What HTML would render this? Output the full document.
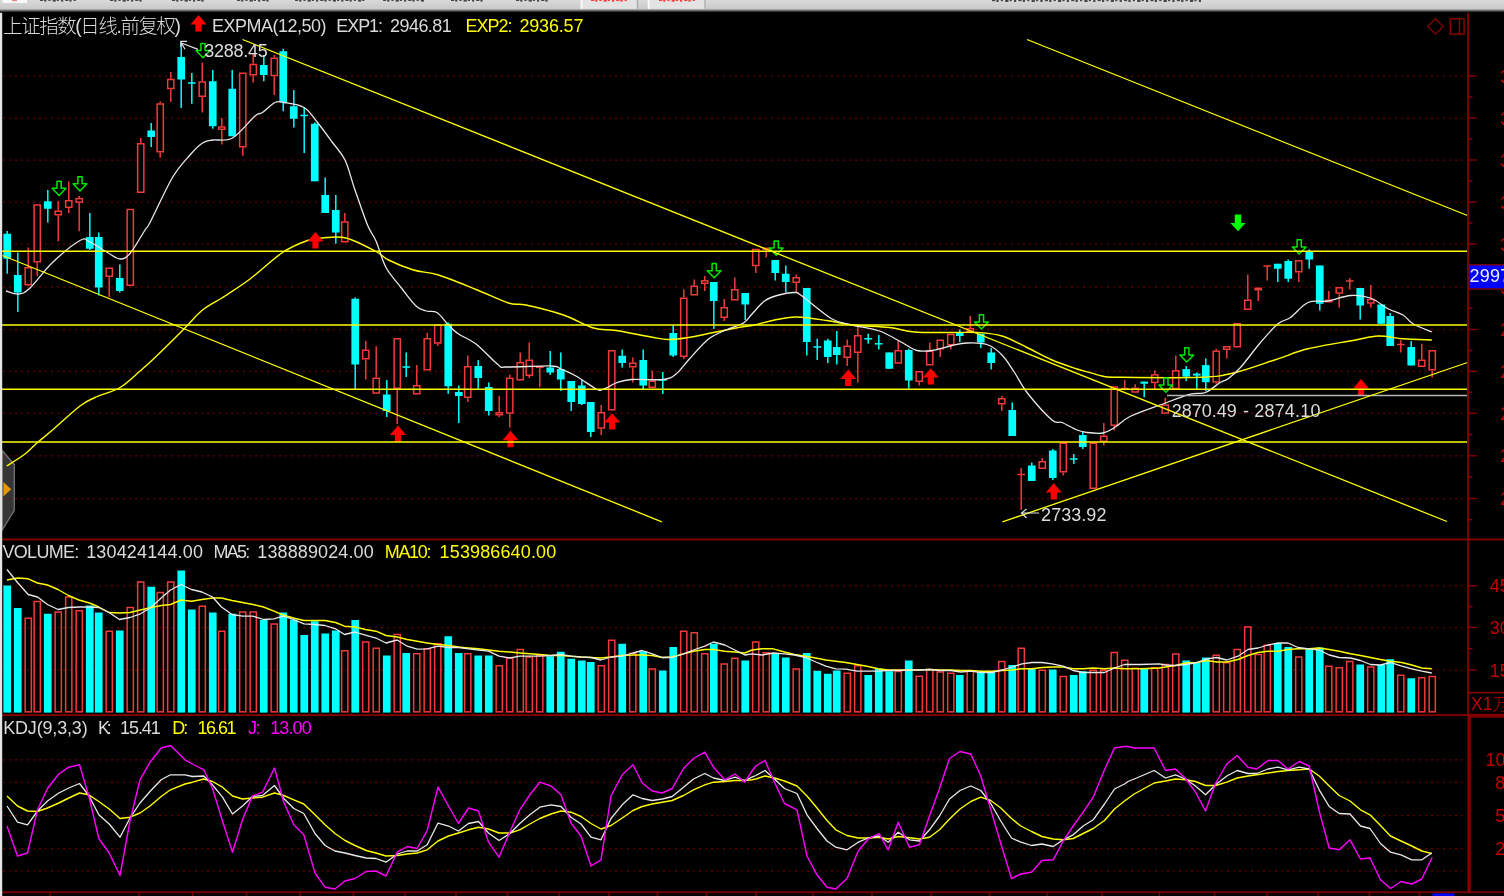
<!DOCTYPE html>
<html><head><meta charset="utf-8"><title>上证指数</title>
<style>
html,body{margin:0;padding:0;background:#000;overflow:hidden}
svg{display:block;will-change:transform;transform:translateZ(0);filter:blur(0.45px)}
text{white-space:pre}
</style></head><body>
<svg width="1504" height="896" viewBox="0 0 1504 896">
<rect x="0" y="0" width="1504" height="896" fill="#000"/>
<path d="M2.2,450.5 L14.3,464.5 V510.3 L2.2,530 Z" fill="#363636" stroke="#6e6e6e" stroke-width="1.4"/>
<path d="M3.4,482 L11.2,489.2 L3.4,496.4 Z" fill="#e69a00"/>
<line x1="3.4" y1="76" x2="1464" y2="76" stroke="#a40000" stroke-width="1.25" stroke-dasharray="1.25 4.75"/>
<line x1="3.4" y1="118" x2="1464" y2="118" stroke="#a40000" stroke-width="1.25" stroke-dasharray="1.25 4.75"/>
<line x1="3.4" y1="160" x2="1464" y2="160" stroke="#a40000" stroke-width="1.25" stroke-dasharray="1.25 4.75"/>
<line x1="3.4" y1="202" x2="1464" y2="202" stroke="#a40000" stroke-width="1.25" stroke-dasharray="1.25 4.75"/>
<line x1="3.4" y1="244" x2="1464" y2="244" stroke="#a40000" stroke-width="1.25" stroke-dasharray="1.25 4.75"/>
<line x1="3.4" y1="287" x2="1464" y2="287" stroke="#a40000" stroke-width="1.25" stroke-dasharray="1.25 4.75"/>
<line x1="3.4" y1="329.5" x2="1464" y2="329.5" stroke="#a40000" stroke-width="1.25" stroke-dasharray="1.25 4.75"/>
<line x1="3.4" y1="371.3" x2="1464" y2="371.3" stroke="#a40000" stroke-width="1.25" stroke-dasharray="1.25 4.75"/>
<line x1="3.4" y1="413.3" x2="1464" y2="413.3" stroke="#a40000" stroke-width="1.25" stroke-dasharray="1.25 4.75"/>
<line x1="3.4" y1="455.8" x2="1464" y2="455.8" stroke="#a40000" stroke-width="1.25" stroke-dasharray="1.25 4.75"/>
<line x1="3.4" y1="498.5" x2="1464" y2="498.5" stroke="#a40000" stroke-width="1.25" stroke-dasharray="1.25 4.75"/>
<line x1="3.4" y1="585.75" x2="1464" y2="585.75" stroke="#a40000" stroke-width="1.25" stroke-dasharray="1.25 4.75"/>
<line x1="3.4" y1="627.5" x2="1464" y2="627.5" stroke="#a40000" stroke-width="1.25" stroke-dasharray="1.25 4.75"/>
<line x1="3.4" y1="670" x2="1464" y2="670" stroke="#a40000" stroke-width="1.25" stroke-dasharray="1.25 4.75"/>
<line x1="3.4" y1="759.75" x2="1464" y2="759.75" stroke="#a40000" stroke-width="1.25" stroke-dasharray="1.25 4.75"/>
<line x1="3.4" y1="782.25" x2="1464" y2="782.25" stroke="#a40000" stroke-width="1.25" stroke-dasharray="1.25 4.75"/>
<line x1="3.4" y1="815.5" x2="1464" y2="815.5" stroke="#a40000" stroke-width="1.25" stroke-dasharray="1.25 4.75"/>
<line x1="3.4" y1="848.5" x2="1464" y2="848.5" stroke="#a40000" stroke-width="1.25" stroke-dasharray="1.25 4.75"/>
<line x1="3.4" y1="871" x2="1464" y2="871" stroke="#a40000" stroke-width="1.25" stroke-dasharray="1.25 4.75"/>
<line x1="7.2" y1="231.0" x2="7.2" y2="273.8" stroke="#00ffff" stroke-width="1.5" />
<rect x="3.40" y="233.75" width="7.7" height="25.00" fill="#00ffff"/>
<line x1="17.8" y1="252.5" x2="17.8" y2="312.0" stroke="#00ffff" stroke-width="1.5" />
<rect x="13.90" y="275.00" width="7.7" height="17.50" fill="#00ffff"/>
<line x1="28.2" y1="247.5" x2="28.2" y2="267.0" stroke="#f23a3a" stroke-width="1.5" />
<rect x="25.15" y="267.75" width="6.20" height="17.00" fill="#000" stroke="#f23a3a" stroke-width="1.5"/>
<line x1="37.2" y1="262.5" x2="37.2" y2="276.0" stroke="#f23a3a" stroke-width="1.5" />
<rect x="34.15" y="205.00" width="6.20" height="56.75" fill="#000" stroke="#f23a3a" stroke-width="1.5"/>
<line x1="47.8" y1="190.0" x2="47.8" y2="222.5" stroke="#00ffff" stroke-width="1.5" />
<rect x="43.90" y="201.25" width="7.7" height="7.50" fill="#00ffff"/>
<line x1="58.2" y1="201.2" x2="58.2" y2="210.5" stroke="#f23a3a" stroke-width="1.5" />
<line x1="58.2" y1="215.5" x2="58.2" y2="241.2" stroke="#f23a3a" stroke-width="1.5" />
<rect x="55.15" y="211.25" width="6.20" height="3.50" fill="#000" stroke="#f23a3a" stroke-width="1.5"/>
<line x1="68.8" y1="181.2" x2="68.8" y2="200.0" stroke="#f23a3a" stroke-width="1.5" />
<line x1="68.8" y1="208.0" x2="68.8" y2="213.0" stroke="#f23a3a" stroke-width="1.5" />
<rect x="65.65" y="200.75" width="6.20" height="6.50" fill="#000" stroke="#f23a3a" stroke-width="1.5"/>
<line x1="79.2" y1="196.1" x2="79.2" y2="197.9" stroke="#f23a3a" stroke-width="1.5" />
<line x1="79.2" y1="202.9" x2="79.2" y2="231.2" stroke="#f23a3a" stroke-width="1.5" />
<rect x="76.15" y="198.65" width="6.20" height="3.50" fill="#000" stroke="#f23a3a" stroke-width="1.5"/>
<line x1="89.8" y1="213.0" x2="89.8" y2="250.0" stroke="#00ffff" stroke-width="1.5" />
<rect x="85.90" y="237.00" width="7.7" height="11.75" fill="#00ffff"/>
<line x1="98.8" y1="232.5" x2="98.8" y2="295.5" stroke="#00ffff" stroke-width="1.5" />
<rect x="94.90" y="237.00" width="7.7" height="50.50" fill="#00ffff"/>
<line x1="109.2" y1="277.0" x2="109.2" y2="297.0" stroke="#f23a3a" stroke-width="1.5" />
<rect x="106.15" y="268.25" width="6.20" height="8.00" fill="#000" stroke="#f23a3a" stroke-width="1.5"/>
<line x1="119.8" y1="264.5" x2="119.8" y2="292.5" stroke="#00ffff" stroke-width="1.5" />
<rect x="115.90" y="278.00" width="7.7" height="13.00" fill="#00ffff"/>
<rect x="127.15" y="209.50" width="6.20" height="75.75" fill="#000" stroke="#f23a3a" stroke-width="1.5"/>
<line x1="140.8" y1="138.0" x2="140.8" y2="143.0" stroke="#f23a3a" stroke-width="1.5" />
<rect x="137.65" y="143.75" width="6.20" height="48.50" fill="#000" stroke="#f23a3a" stroke-width="1.5"/>
<line x1="151.2" y1="123.0" x2="151.2" y2="147.0" stroke="#00ffff" stroke-width="1.5" />
<rect x="147.40" y="130.50" width="7.7" height="6.50" fill="#00ffff"/>
<line x1="160.2" y1="101.2" x2="160.2" y2="103.2" stroke="#f23a3a" stroke-width="1.5" />
<line x1="160.2" y1="152.5" x2="160.2" y2="157.5" stroke="#f23a3a" stroke-width="1.5" />
<rect x="157.15" y="104.00" width="6.20" height="47.75" fill="#000" stroke="#f23a3a" stroke-width="1.5"/>
<line x1="170.8" y1="72.0" x2="170.8" y2="78.8" stroke="#f23a3a" stroke-width="1.5" />
<line x1="170.8" y1="89.2" x2="170.8" y2="102.0" stroke="#f23a3a" stroke-width="1.5" />
<rect x="167.65" y="79.50" width="6.20" height="9.00" fill="#000" stroke="#f23a3a" stroke-width="1.5"/>
<line x1="181.2" y1="42.5" x2="181.2" y2="108.0" stroke="#00ffff" stroke-width="1.5" />
<rect x="177.40" y="57.00" width="7.7" height="22.50" fill="#00ffff"/>
<line x1="191.8" y1="73.0" x2="191.8" y2="103.8" stroke="#00ffff" stroke-width="1.5" />
<line x1="187.9" y1="83.0" x2="195.6" y2="83.0" stroke="#00ffff" stroke-width="1.5" />
<line x1="202.2" y1="62.5" x2="202.2" y2="81.2" stroke="#f23a3a" stroke-width="1.5" />
<line x1="202.2" y1="97.0" x2="202.2" y2="112.5" stroke="#f23a3a" stroke-width="1.5" />
<rect x="199.15" y="82.00" width="6.20" height="14.25" fill="#000" stroke="#f23a3a" stroke-width="1.5"/>
<line x1="212.8" y1="70.0" x2="212.8" y2="128.8" stroke="#00ffff" stroke-width="1.5" />
<rect x="208.90" y="81.25" width="7.7" height="45.00" fill="#00ffff"/>
<line x1="221.8" y1="118.0" x2="221.8" y2="126.2" stroke="#f23a3a" stroke-width="1.5" />
<line x1="221.8" y1="130.0" x2="221.8" y2="144.5" stroke="#f23a3a" stroke-width="1.5" />
<rect x="218.65" y="127.00" width="6.20" height="2.25" fill="#000" stroke="#f23a3a" stroke-width="1.5"/>
<line x1="232.2" y1="70.0" x2="232.2" y2="136.2" stroke="#00ffff" stroke-width="1.5" />
<rect x="228.40" y="88.75" width="7.7" height="47.50" fill="#00ffff"/>
<line x1="242.8" y1="147.5" x2="242.8" y2="155.8" stroke="#f23a3a" stroke-width="1.5" />
<rect x="239.65" y="73.25" width="6.20" height="73.50" fill="#000" stroke="#f23a3a" stroke-width="1.5"/>
<line x1="253.2" y1="53.8" x2="253.2" y2="63.8" stroke="#f23a3a" stroke-width="1.5" />
<line x1="253.2" y1="75.5" x2="253.2" y2="82.5" stroke="#f23a3a" stroke-width="1.5" />
<rect x="250.15" y="64.50" width="6.20" height="10.25" fill="#000" stroke="#f23a3a" stroke-width="1.5"/>
<line x1="263.8" y1="55.0" x2="263.8" y2="81.2" stroke="#00ffff" stroke-width="1.5" />
<rect x="259.90" y="65.00" width="7.7" height="10.00" fill="#00ffff"/>
<line x1="274.2" y1="55.0" x2="274.2" y2="57.5" stroke="#f23a3a" stroke-width="1.5" />
<line x1="274.2" y1="76.2" x2="274.2" y2="95.0" stroke="#f23a3a" stroke-width="1.5" />
<rect x="271.15" y="58.25" width="6.20" height="17.25" fill="#000" stroke="#f23a3a" stroke-width="1.5"/>
<line x1="283.2" y1="48.8" x2="283.2" y2="111.2" stroke="#00ffff" stroke-width="1.5" />
<rect x="279.40" y="51.25" width="7.7" height="51.25" fill="#00ffff"/>
<line x1="293.8" y1="90.0" x2="293.8" y2="127.5" stroke="#00ffff" stroke-width="1.5" />
<rect x="289.90" y="106.25" width="7.7" height="12.50" fill="#00ffff"/>
<line x1="304.2" y1="107.5" x2="304.2" y2="153.0" stroke="#00ffff" stroke-width="1.5" />
<line x1="300.4" y1="115.5" x2="308.1" y2="115.5" stroke="#00ffff" stroke-width="1.5" />
<line x1="314.8" y1="122.5" x2="314.8" y2="181.2" stroke="#00ffff" stroke-width="1.5" />
<rect x="310.90" y="123.75" width="7.7" height="57.50" fill="#00ffff"/>
<line x1="325.2" y1="177.5" x2="325.2" y2="213.0" stroke="#00ffff" stroke-width="1.5" />
<rect x="321.40" y="195.00" width="7.7" height="18.00" fill="#00ffff"/>
<line x1="335.8" y1="195.0" x2="335.8" y2="243.8" stroke="#00ffff" stroke-width="1.5" />
<rect x="331.90" y="210.00" width="7.7" height="22.50" fill="#00ffff"/>
<line x1="344.8" y1="213.0" x2="344.8" y2="221.2" stroke="#f23a3a" stroke-width="1.5" />
<rect x="341.65" y="222.00" width="6.20" height="19.75" fill="#000" stroke="#f23a3a" stroke-width="1.5"/>
<line x1="355.2" y1="297.5" x2="355.2" y2="389.0" stroke="#00ffff" stroke-width="1.5" />
<rect x="351.40" y="298.75" width="7.7" height="65.75" fill="#00ffff"/>
<line x1="365.8" y1="341.0" x2="365.8" y2="349.5" stroke="#f23a3a" stroke-width="1.5" />
<line x1="365.8" y1="359.5" x2="365.8" y2="379.5" stroke="#f23a3a" stroke-width="1.5" />
<rect x="362.65" y="350.25" width="6.20" height="8.50" fill="#000" stroke="#f23a3a" stroke-width="1.5"/>
<line x1="376.2" y1="346.2" x2="376.2" y2="377.5" stroke="#f23a3a" stroke-width="1.5" />
<line x1="376.2" y1="393.8" x2="376.2" y2="394.0" stroke="#f23a3a" stroke-width="1.5" />
<rect x="373.15" y="378.25" width="6.20" height="14.75" fill="#000" stroke="#f23a3a" stroke-width="1.5"/>
<line x1="386.8" y1="380.0" x2="386.8" y2="417.0" stroke="#00ffff" stroke-width="1.5" />
<rect x="382.90" y="394.50" width="7.7" height="16.50" fill="#00ffff"/>
<line x1="397.2" y1="389.0" x2="397.2" y2="424.0" stroke="#f23a3a" stroke-width="1.5" />
<rect x="394.15" y="338.75" width="6.20" height="49.50" fill="#000" stroke="#f23a3a" stroke-width="1.5"/>
<line x1="406.2" y1="352.5" x2="406.2" y2="377.0" stroke="#00ffff" stroke-width="1.5" />
<line x1="402.4" y1="367.0" x2="410.1" y2="367.0" stroke="#00ffff" stroke-width="1.5" />
<line x1="416.8" y1="365.0" x2="416.8" y2="385.0" stroke="#f23a3a" stroke-width="1.5" />
<rect x="413.65" y="385.75" width="6.20" height="8.00" fill="#000" stroke="#f23a3a" stroke-width="1.5"/>
<line x1="427.2" y1="333.0" x2="427.2" y2="338.0" stroke="#f23a3a" stroke-width="1.5" />
<rect x="424.15" y="338.75" width="6.20" height="31.00" fill="#000" stroke="#f23a3a" stroke-width="1.5"/>
<line x1="437.8" y1="343.8" x2="437.8" y2="346.0" stroke="#f23a3a" stroke-width="1.5" />
<rect x="434.65" y="325.25" width="6.20" height="17.75" fill="#000" stroke="#f23a3a" stroke-width="1.5"/>
<line x1="448.2" y1="322.5" x2="448.2" y2="393.8" stroke="#00ffff" stroke-width="1.5" />
<rect x="444.40" y="323.75" width="7.7" height="62.50" fill="#00ffff"/>
<line x1="458.8" y1="385.5" x2="458.8" y2="423.0" stroke="#00ffff" stroke-width="1.5" />
<rect x="454.90" y="392.00" width="7.7" height="4.00" fill="#00ffff"/>
<line x1="467.8" y1="355.5" x2="467.8" y2="366.0" stroke="#f23a3a" stroke-width="1.5" />
<line x1="467.8" y1="398.0" x2="467.8" y2="402.0" stroke="#f23a3a" stroke-width="1.5" />
<rect x="464.65" y="366.75" width="6.20" height="30.50" fill="#000" stroke="#f23a3a" stroke-width="1.5"/>
<line x1="478.2" y1="360.0" x2="478.2" y2="389.0" stroke="#00ffff" stroke-width="1.5" />
<rect x="474.40" y="366.00" width="7.7" height="12.00" fill="#00ffff"/>
<line x1="488.8" y1="382.5" x2="488.8" y2="415.5" stroke="#00ffff" stroke-width="1.5" />
<rect x="484.90" y="387.00" width="7.7" height="24.00" fill="#00ffff"/>
<line x1="499.2" y1="396.0" x2="499.2" y2="412.0" stroke="#f23a3a" stroke-width="1.5" />
<line x1="499.2" y1="415.5" x2="499.2" y2="417.0" stroke="#f23a3a" stroke-width="1.5" />
<rect x="496.15" y="412.75" width="6.20" height="2.00" fill="#000" stroke="#f23a3a" stroke-width="1.5"/>
<line x1="509.8" y1="374.5" x2="509.8" y2="377.5" stroke="#f23a3a" stroke-width="1.5" />
<line x1="509.8" y1="413.8" x2="509.8" y2="427.5" stroke="#f23a3a" stroke-width="1.5" />
<rect x="506.65" y="378.25" width="6.20" height="34.75" fill="#000" stroke="#f23a3a" stroke-width="1.5"/>
<line x1="520.2" y1="352.5" x2="520.2" y2="362.0" stroke="#f23a3a" stroke-width="1.5" />
<rect x="517.15" y="362.75" width="6.20" height="17.00" fill="#000" stroke="#f23a3a" stroke-width="1.5"/>
<line x1="529.2" y1="342.5" x2="529.2" y2="359.5" stroke="#f23a3a" stroke-width="1.5" />
<line x1="529.2" y1="376.0" x2="529.2" y2="378.0" stroke="#f23a3a" stroke-width="1.5" />
<rect x="526.15" y="360.25" width="6.20" height="15.00" fill="#000" stroke="#f23a3a" stroke-width="1.5"/>
<line x1="539.8" y1="368.0" x2="539.8" y2="387.0" stroke="#f23a3a" stroke-width="1.5" />
<rect x="536.65" y="366.75" width="6.20" height="0.50" fill="#000" stroke="#f23a3a" stroke-width="1.5"/>
<line x1="550.2" y1="351.0" x2="550.2" y2="375.0" stroke="#00ffff" stroke-width="1.5" />
<rect x="546.40" y="367.50" width="7.7" height="5.00" fill="#00ffff"/>
<line x1="560.8" y1="352.5" x2="560.8" y2="391.0" stroke="#00ffff" stroke-width="1.5" />
<rect x="556.90" y="369.00" width="7.7" height="10.50" fill="#00ffff"/>
<line x1="571.2" y1="381.0" x2="571.2" y2="411.0" stroke="#00ffff" stroke-width="1.5" />
<rect x="567.40" y="381.00" width="7.7" height="21.00" fill="#00ffff"/>
<line x1="581.8" y1="380.0" x2="581.8" y2="405.0" stroke="#00ffff" stroke-width="1.5" />
<rect x="577.90" y="385.50" width="7.7" height="18.50" fill="#00ffff"/>
<line x1="590.8" y1="402.0" x2="590.8" y2="437.0" stroke="#00ffff" stroke-width="1.5" />
<rect x="586.90" y="402.00" width="7.7" height="30.00" fill="#00ffff"/>
<line x1="601.2" y1="405.0" x2="601.2" y2="412.0" stroke="#f23a3a" stroke-width="1.5" />
<line x1="601.2" y1="428.8" x2="601.2" y2="435.0" stroke="#f23a3a" stroke-width="1.5" />
<rect x="598.15" y="412.75" width="6.20" height="15.25" fill="#000" stroke="#f23a3a" stroke-width="1.5"/>
<rect x="608.65" y="350.75" width="6.20" height="59.00" fill="#000" stroke="#f23a3a" stroke-width="1.5"/>
<line x1="622.2" y1="349.5" x2="622.2" y2="367.5" stroke="#00ffff" stroke-width="1.5" />
<rect x="618.40" y="355.75" width="7.7" height="7.25" fill="#00ffff"/>
<line x1="632.8" y1="357.5" x2="632.8" y2="362.5" stroke="#f23a3a" stroke-width="1.5" />
<line x1="632.8" y1="367.5" x2="632.8" y2="382.5" stroke="#f23a3a" stroke-width="1.5" />
<rect x="629.65" y="363.25" width="6.20" height="3.50" fill="#000" stroke="#f23a3a" stroke-width="1.5"/>
<line x1="643.2" y1="349.5" x2="643.2" y2="389.0" stroke="#00ffff" stroke-width="1.5" />
<rect x="639.40" y="360.00" width="7.7" height="25.50" fill="#00ffff"/>
<line x1="652.2" y1="370.5" x2="652.2" y2="380.5" stroke="#f23a3a" stroke-width="1.5" />
<rect x="649.15" y="381.25" width="6.20" height="6.00" fill="#000" stroke="#f23a3a" stroke-width="1.5"/>
<line x1="662.8" y1="372.0" x2="662.8" y2="394.0" stroke="#00ffff" stroke-width="1.5" />
<line x1="658.9" y1="380.0" x2="666.6" y2="380.0" stroke="#00ffff" stroke-width="1.5" />
<line x1="673.2" y1="325.0" x2="673.2" y2="357.0" stroke="#00ffff" stroke-width="1.5" />
<rect x="669.40" y="333.00" width="7.7" height="22.50" fill="#00ffff"/>
<line x1="683.8" y1="289.5" x2="683.8" y2="297.5" stroke="#f23a3a" stroke-width="1.5" />
<line x1="683.8" y1="357.0" x2="683.8" y2="359.0" stroke="#f23a3a" stroke-width="1.5" />
<rect x="680.65" y="298.25" width="6.20" height="58.00" fill="#000" stroke="#f23a3a" stroke-width="1.5"/>
<line x1="694.2" y1="279.5" x2="694.2" y2="285.5" stroke="#f23a3a" stroke-width="1.5" />
<rect x="691.15" y="286.25" width="6.20" height="8.50" fill="#000" stroke="#f23a3a" stroke-width="1.5"/>
<line x1="704.8" y1="276.0" x2="704.8" y2="280.0" stroke="#f23a3a" stroke-width="1.5" />
<line x1="704.8" y1="284.0" x2="704.8" y2="291.0" stroke="#f23a3a" stroke-width="1.5" />
<rect x="701.65" y="280.75" width="6.20" height="2.50" fill="#000" stroke="#f23a3a" stroke-width="1.5"/>
<line x1="713.8" y1="282.0" x2="713.8" y2="329.0" stroke="#00ffff" stroke-width="1.5" />
<rect x="709.90" y="282.00" width="7.7" height="19.00" fill="#00ffff"/>
<line x1="724.2" y1="299.0" x2="724.2" y2="307.0" stroke="#f23a3a" stroke-width="1.5" />
<line x1="724.2" y1="318.0" x2="724.2" y2="321.0" stroke="#f23a3a" stroke-width="1.5" />
<rect x="721.15" y="307.75" width="6.20" height="9.50" fill="#000" stroke="#f23a3a" stroke-width="1.5"/>
<line x1="734.8" y1="277.5" x2="734.8" y2="289.0" stroke="#f23a3a" stroke-width="1.5" />
<rect x="731.65" y="289.75" width="6.20" height="10.00" fill="#000" stroke="#f23a3a" stroke-width="1.5"/>
<line x1="745.2" y1="293.0" x2="745.2" y2="320.0" stroke="#00ffff" stroke-width="1.5" />
<rect x="741.40" y="293.00" width="7.7" height="11.50" fill="#00ffff"/>
<line x1="755.8" y1="266.2" x2="755.8" y2="273.0" stroke="#f23a3a" stroke-width="1.5" />
<rect x="752.65" y="249.50" width="6.20" height="16.00" fill="#000" stroke="#f23a3a" stroke-width="1.5"/>
<line x1="766.2" y1="250.0" x2="766.2" y2="257.5" stroke="#f23a3a" stroke-width="1.5" />
<rect x="763.15" y="248.25" width="6.20" height="1.00" fill="#000" stroke="#f23a3a" stroke-width="1.5"/>
<line x1="775.2" y1="260.0" x2="775.2" y2="280.5" stroke="#00ffff" stroke-width="1.5" />
<rect x="771.40" y="260.00" width="7.7" height="13.00" fill="#00ffff"/>
<line x1="785.8" y1="265.5" x2="785.8" y2="292.5" stroke="#00ffff" stroke-width="1.5" />
<rect x="781.90" y="273.75" width="7.7" height="8.25" fill="#00ffff"/>
<line x1="796.2" y1="274.5" x2="796.2" y2="277.0" stroke="#f23a3a" stroke-width="1.5" />
<line x1="796.2" y1="283.0" x2="796.2" y2="292.5" stroke="#f23a3a" stroke-width="1.5" />
<rect x="793.15" y="277.75" width="6.20" height="4.50" fill="#000" stroke="#f23a3a" stroke-width="1.5"/>
<line x1="806.8" y1="288.0" x2="806.8" y2="355.5" stroke="#00ffff" stroke-width="1.5" />
<rect x="802.90" y="288.00" width="7.7" height="54.00" fill="#00ffff"/>
<line x1="817.2" y1="338.8" x2="817.2" y2="360.0" stroke="#00ffff" stroke-width="1.5" />
<line x1="813.4" y1="347.0" x2="821.1" y2="347.0" stroke="#00ffff" stroke-width="1.5" />
<line x1="827.8" y1="338.8" x2="827.8" y2="363.0" stroke="#00ffff" stroke-width="1.5" />
<rect x="823.90" y="340.50" width="7.7" height="16.50" fill="#00ffff"/>
<line x1="836.8" y1="331.0" x2="836.8" y2="364.5" stroke="#00ffff" stroke-width="1.5" />
<rect x="832.90" y="347.00" width="7.7" height="8.00" fill="#00ffff"/>
<line x1="847.2" y1="339.5" x2="847.2" y2="345.5" stroke="#f23a3a" stroke-width="1.5" />
<line x1="847.2" y1="358.0" x2="847.2" y2="366.0" stroke="#f23a3a" stroke-width="1.5" />
<rect x="844.15" y="346.25" width="6.20" height="11.00" fill="#000" stroke="#f23a3a" stroke-width="1.5"/>
<line x1="857.8" y1="326.0" x2="857.8" y2="335.0" stroke="#f23a3a" stroke-width="1.5" />
<line x1="857.8" y1="353.0" x2="857.8" y2="382.5" stroke="#f23a3a" stroke-width="1.5" />
<rect x="854.65" y="335.75" width="6.20" height="16.50" fill="#000" stroke="#f23a3a" stroke-width="1.5"/>
<line x1="868.2" y1="333.8" x2="868.2" y2="343.8" stroke="#00ffff" stroke-width="1.5" />
<line x1="864.4" y1="338.8" x2="872.1" y2="338.8" stroke="#00ffff" stroke-width="1.5" />
<line x1="878.8" y1="335.0" x2="878.8" y2="349.5" stroke="#00ffff" stroke-width="1.5" />
<line x1="874.9" y1="343.8" x2="882.6" y2="343.8" stroke="#00ffff" stroke-width="1.5" />
<line x1="889.2" y1="352.5" x2="889.2" y2="368.8" stroke="#00ffff" stroke-width="1.5" />
<rect x="885.40" y="352.50" width="7.7" height="16.25" fill="#00ffff"/>
<line x1="898.2" y1="341.0" x2="898.2" y2="350.0" stroke="#f23a3a" stroke-width="1.5" />
<line x1="898.2" y1="363.8" x2="898.2" y2="364.0" stroke="#f23a3a" stroke-width="1.5" />
<rect x="895.15" y="350.75" width="6.20" height="12.25" fill="#000" stroke="#f23a3a" stroke-width="1.5"/>
<line x1="908.8" y1="348.8" x2="908.8" y2="388.8" stroke="#00ffff" stroke-width="1.5" />
<rect x="904.90" y="350.00" width="7.7" height="30.50" fill="#00ffff"/>
<line x1="919.2" y1="382.0" x2="919.2" y2="385.5" stroke="#f23a3a" stroke-width="1.5" />
<rect x="916.15" y="371.75" width="6.20" height="9.50" fill="#000" stroke="#f23a3a" stroke-width="1.5"/>
<line x1="929.8" y1="342.5" x2="929.8" y2="350.5" stroke="#f23a3a" stroke-width="1.5" />
<rect x="926.65" y="351.25" width="6.20" height="13.50" fill="#000" stroke="#f23a3a" stroke-width="1.5"/>
<line x1="940.2" y1="349.5" x2="940.2" y2="357.0" stroke="#f23a3a" stroke-width="1.5" />
<rect x="937.15" y="340.25" width="6.20" height="8.50" fill="#000" stroke="#f23a3a" stroke-width="1.5"/>
<line x1="950.8" y1="345.5" x2="950.8" y2="349.5" stroke="#f23a3a" stroke-width="1.5" />
<rect x="947.65" y="334.50" width="6.20" height="10.25" fill="#000" stroke="#f23a3a" stroke-width="1.5"/>
<line x1="959.8" y1="329.5" x2="959.8" y2="342.0" stroke="#00ffff" stroke-width="1.5" />
<rect x="955.90" y="333.00" width="7.7" height="3.00" fill="#00ffff"/>
<line x1="970.2" y1="316.0" x2="970.2" y2="328.0" stroke="#f23a3a" stroke-width="1.5" />
<rect x="967.15" y="328.75" width="6.20" height="2.50" fill="#000" stroke="#f23a3a" stroke-width="1.5"/>
<line x1="980.8" y1="333.8" x2="980.8" y2="348.0" stroke="#00ffff" stroke-width="1.5" />
<rect x="976.90" y="333.75" width="7.7" height="8.75" fill="#00ffff"/>
<line x1="991.2" y1="348.0" x2="991.2" y2="369.5" stroke="#00ffff" stroke-width="1.5" />
<rect x="987.40" y="352.50" width="7.7" height="10.50" fill="#00ffff"/>
<line x1="1001.8" y1="396.0" x2="1001.8" y2="398.0" stroke="#f23a3a" stroke-width="1.5" />
<line x1="1001.8" y1="404.5" x2="1001.8" y2="411.0" stroke="#f23a3a" stroke-width="1.5" />
<rect x="998.65" y="398.75" width="6.20" height="5.00" fill="#000" stroke="#f23a3a" stroke-width="1.5"/>
<line x1="1012.2" y1="402.5" x2="1012.2" y2="436.0" stroke="#00ffff" stroke-width="1.5" />
<rect x="1008.40" y="410.00" width="7.7" height="26.00" fill="#00ffff"/>
<line x1="1021.2" y1="468.0" x2="1021.2" y2="510.0" stroke="#f23a3a" stroke-width="1.5" />
<line x1="1017.4" y1="474.5" x2="1025.1" y2="474.5" stroke="#f23a3a" stroke-width="1.5" />
<line x1="1031.8" y1="462.5" x2="1031.8" y2="481.0" stroke="#00ffff" stroke-width="1.5" />
<rect x="1027.90" y="465.50" width="7.7" height="15.50" fill="#00ffff"/>
<line x1="1042.2" y1="458.0" x2="1042.2" y2="461.0" stroke="#f23a3a" stroke-width="1.5" />
<rect x="1039.15" y="461.75" width="6.20" height="6.50" fill="#000" stroke="#f23a3a" stroke-width="1.5"/>
<line x1="1052.8" y1="449.0" x2="1052.8" y2="480.0" stroke="#00ffff" stroke-width="1.5" />
<rect x="1048.90" y="450.50" width="7.7" height="27.50" fill="#00ffff"/>
<line x1="1063.2" y1="472.5" x2="1063.2" y2="475.5" stroke="#f23a3a" stroke-width="1.5" />
<rect x="1060.15" y="443.25" width="6.20" height="28.50" fill="#000" stroke="#f23a3a" stroke-width="1.5"/>
<line x1="1073.8" y1="454.0" x2="1073.8" y2="464.0" stroke="#00ffff" stroke-width="1.5" />
<line x1="1069.9" y1="459.0" x2="1077.6" y2="459.0" stroke="#00ffff" stroke-width="1.5" />
<line x1="1082.8" y1="431.0" x2="1082.8" y2="449.0" stroke="#00ffff" stroke-width="1.5" />
<rect x="1078.90" y="435.00" width="7.7" height="12.00" fill="#00ffff"/>
<rect x="1090.15" y="443.25" width="6.20" height="45.00" fill="#000" stroke="#f23a3a" stroke-width="1.5"/>
<line x1="1103.8" y1="423.0" x2="1103.8" y2="435.5" stroke="#f23a3a" stroke-width="1.5" />
<line x1="1103.8" y1="442.0" x2="1103.8" y2="445.5" stroke="#f23a3a" stroke-width="1.5" />
<rect x="1100.65" y="436.25" width="6.20" height="5.00" fill="#000" stroke="#f23a3a" stroke-width="1.5"/>
<line x1="1114.2" y1="425.9" x2="1114.2" y2="430.4" stroke="#f23a3a" stroke-width="1.5" />
<rect x="1111.15" y="386.95" width="6.20" height="38.20" fill="#000" stroke="#f23a3a" stroke-width="1.5"/>
<line x1="1124.8" y1="380.0" x2="1124.8" y2="390.2" stroke="#f23a3a" stroke-width="1.5" />
<line x1="1120.9" y1="388.5" x2="1128.6" y2="388.5" stroke="#f23a3a" stroke-width="1.5" />
<line x1="1135.2" y1="384.2" x2="1135.2" y2="387.7" stroke="#f23a3a" stroke-width="1.5" />
<line x1="1135.2" y1="392.7" x2="1135.2" y2="393.2" stroke="#f23a3a" stroke-width="1.5" />
<rect x="1132.15" y="388.45" width="6.20" height="3.50" fill="#000" stroke="#f23a3a" stroke-width="1.5"/>
<line x1="1144.2" y1="381.6" x2="1144.2" y2="397.2" stroke="#00ffff" stroke-width="1.5" />
<rect x="1140.40" y="381.60" width="7.7" height="2.10" fill="#00ffff"/>
<line x1="1154.8" y1="370.6" x2="1154.8" y2="374.1" stroke="#f23a3a" stroke-width="1.5" />
<line x1="1154.8" y1="383.2" x2="1154.8" y2="388.7" stroke="#f23a3a" stroke-width="1.5" />
<rect x="1151.65" y="374.85" width="6.20" height="7.60" fill="#000" stroke="#f23a3a" stroke-width="1.5"/>
<line x1="1165.2" y1="397.7" x2="1165.2" y2="404.3" stroke="#f23a3a" stroke-width="1.5" />
<rect x="1162.15" y="405.05" width="6.20" height="8.00" fill="#000" stroke="#f23a3a" stroke-width="1.5"/>
<line x1="1175.8" y1="355.5" x2="1175.8" y2="370.1" stroke="#f23a3a" stroke-width="1.5" />
<rect x="1172.65" y="370.85" width="6.20" height="17.60" fill="#000" stroke="#f23a3a" stroke-width="1.5"/>
<line x1="1186.2" y1="366.1" x2="1186.2" y2="381.1" stroke="#00ffff" stroke-width="1.5" />
<rect x="1182.40" y="369.10" width="7.7" height="7.50" fill="#00ffff"/>
<line x1="1196.8" y1="372.6" x2="1196.8" y2="389.2" stroke="#00ffff" stroke-width="1.5" />
<rect x="1192.90" y="373.60" width="7.7" height="2.00" fill="#00ffff"/>
<line x1="1205.8" y1="358.5" x2="1205.8" y2="391.2" stroke="#00ffff" stroke-width="1.5" />
<rect x="1201.90" y="365.10" width="7.7" height="17.10" fill="#00ffff"/>
<line x1="1216.2" y1="348.8" x2="1216.2" y2="350.5" stroke="#f23a3a" stroke-width="1.5" />
<line x1="1216.2" y1="382.7" x2="1216.2" y2="383.7" stroke="#f23a3a" stroke-width="1.5" />
<rect x="1213.15" y="351.25" width="6.20" height="30.70" fill="#000" stroke="#f23a3a" stroke-width="1.5"/>
<line x1="1226.8" y1="350.0" x2="1226.8" y2="358.5" stroke="#f23a3a" stroke-width="1.5" />
<rect x="1223.65" y="346.75" width="6.20" height="2.50" fill="#000" stroke="#f23a3a" stroke-width="1.5"/>
<rect x="1234.15" y="323.75" width="6.20" height="23.00" fill="#000" stroke="#f23a3a" stroke-width="1.5"/>
<line x1="1247.8" y1="274.5" x2="1247.8" y2="299.5" stroke="#f23a3a" stroke-width="1.5" />
<rect x="1244.65" y="300.25" width="6.20" height="9.00" fill="#000" stroke="#f23a3a" stroke-width="1.5"/>
<line x1="1258.2" y1="290.5" x2="1258.2" y2="301.0" stroke="#f23a3a" stroke-width="1.5" />
<rect x="1255.15" y="288.25" width="6.20" height="1.50" fill="#000" stroke="#f23a3a" stroke-width="1.5"/>
<line x1="1267.2" y1="266.0" x2="1267.2" y2="280.5" stroke="#f23a3a" stroke-width="1.5" />
<line x1="1263.4" y1="266.0" x2="1271.1" y2="266.0" stroke="#f23a3a" stroke-width="1.5" />
<line x1="1277.8" y1="263.8" x2="1277.8" y2="282.0" stroke="#00ffff" stroke-width="1.5" />
<rect x="1273.90" y="263.75" width="7.7" height="5.00" fill="#00ffff"/>
<line x1="1288.2" y1="259.5" x2="1288.2" y2="282.0" stroke="#00ffff" stroke-width="1.5" />
<rect x="1284.40" y="261.00" width="7.7" height="17.75" fill="#00ffff"/>
<line x1="1298.8" y1="272.5" x2="1298.8" y2="282.0" stroke="#f23a3a" stroke-width="1.5" />
<rect x="1295.65" y="260.75" width="6.20" height="11.00" fill="#000" stroke="#f23a3a" stroke-width="1.5"/>
<line x1="1309.2" y1="249.5" x2="1309.2" y2="268.8" stroke="#00ffff" stroke-width="1.5" />
<rect x="1305.40" y="251.00" width="7.7" height="8.50" fill="#00ffff"/>
<line x1="1319.8" y1="265.5" x2="1319.8" y2="310.5" stroke="#00ffff" stroke-width="1.5" />
<rect x="1315.90" y="265.50" width="7.7" height="38.25" fill="#00ffff"/>
<line x1="1328.8" y1="291.0" x2="1328.8" y2="299.5" stroke="#f23a3a" stroke-width="1.5" />
<rect x="1325.65" y="300.25" width="6.20" height="1.50" fill="#000" stroke="#f23a3a" stroke-width="1.5"/>
<line x1="1339.2" y1="293.8" x2="1339.2" y2="307.5" stroke="#f23a3a" stroke-width="1.5" />
<rect x="1336.15" y="287.75" width="6.20" height="5.25" fill="#000" stroke="#f23a3a" stroke-width="1.5"/>
<line x1="1349.8" y1="278.0" x2="1349.8" y2="289.5" stroke="#f23a3a" stroke-width="1.5" />
<line x1="1345.9" y1="281.0" x2="1353.6" y2="281.0" stroke="#f23a3a" stroke-width="1.5" />
<line x1="1360.2" y1="288.0" x2="1360.2" y2="319.5" stroke="#00ffff" stroke-width="1.5" />
<rect x="1356.40" y="288.00" width="7.7" height="17.50" fill="#00ffff"/>
<line x1="1370.8" y1="285.0" x2="1370.8" y2="298.8" stroke="#f23a3a" stroke-width="1.5" />
<line x1="1370.8" y1="303.8" x2="1370.8" y2="307.5" stroke="#f23a3a" stroke-width="1.5" />
<rect x="1367.65" y="299.50" width="6.20" height="3.50" fill="#000" stroke="#f23a3a" stroke-width="1.5"/>
<line x1="1381.2" y1="304.5" x2="1381.2" y2="323.8" stroke="#00ffff" stroke-width="1.5" />
<rect x="1377.40" y="304.50" width="7.7" height="19.25" fill="#00ffff"/>
<line x1="1390.2" y1="313.0" x2="1390.2" y2="346.0" stroke="#00ffff" stroke-width="1.5" />
<rect x="1386.40" y="316.00" width="7.7" height="30.00" fill="#00ffff"/>
<line x1="1400.8" y1="340.0" x2="1400.8" y2="352.5" stroke="#f23a3a" stroke-width="1.5" />
<line x1="1396.9" y1="344.5" x2="1404.6" y2="344.5" stroke="#f23a3a" stroke-width="1.5" />
<line x1="1411.2" y1="341.0" x2="1411.2" y2="365.5" stroke="#00ffff" stroke-width="1.5" />
<rect x="1407.40" y="347.00" width="7.7" height="18.50" fill="#00ffff"/>
<line x1="1421.8" y1="343.8" x2="1421.8" y2="359.5" stroke="#f23a3a" stroke-width="1.5" />
<rect x="1418.65" y="360.25" width="6.20" height="6.00" fill="#000" stroke="#f23a3a" stroke-width="1.5"/>
<line x1="1432.2" y1="370.5" x2="1432.2" y2="377.5" stroke="#f23a3a" stroke-width="1.5" />
<rect x="1429.15" y="350.75" width="6.20" height="19.00" fill="#000" stroke="#f23a3a" stroke-width="1.5"/>
<path d="M6.7,466.0 C9.8,464.0 19.9,457.9 25.0,454.0 C30.1,450.1 32.9,446.5 37.5,442.5 C42.1,438.5 45.4,436.1 52.5,430.0 C59.6,423.9 72.9,411.4 80.0,406.0 C87.1,400.6 88.3,400.6 95.0,397.5 C101.7,394.4 112.5,391.9 120.0,387.5 C127.5,383.1 134.2,376.0 140.0,371.0 C145.8,366.0 147.7,364.5 155.0,357.5 C162.3,350.5 176.1,336.9 184.0,329.0 C191.9,321.1 195.7,315.5 202.5,310.0 C209.3,304.5 217.1,301.2 225.0,296.0 C232.9,290.8 240.4,286.2 250.0,279.0 C259.6,271.8 272.9,258.9 282.5,252.5 C292.1,246.1 300.8,242.9 307.5,240.5 C314.2,238.1 316.1,238.4 322.5,238.0 C328.9,237.6 337.1,235.8 346.0,238.0 C354.9,240.2 368.9,247.8 376.0,251.5 C383.1,255.2 382.2,256.9 388.5,260.0 C394.8,263.1 405.2,267.5 413.5,270.0 C421.8,272.5 428.1,271.8 438.5,275.0 C448.9,278.2 464.3,284.8 476.0,289.5 C487.7,294.2 500.2,300.4 508.5,303.0 C516.8,305.6 516.8,303.0 526.0,305.0 C535.2,307.0 552.2,311.2 563.5,315.0 C574.8,318.8 584.8,325.4 593.5,328.0 C602.2,330.6 606.4,329.0 616.0,330.5 C625.6,332.0 642.2,335.5 651.0,337.0 C659.8,338.5 662.2,339.4 668.5,339.5 C674.8,339.6 681.0,338.7 688.5,337.5 C696.0,336.3 705.2,334.2 713.5,332.5 C721.8,330.8 732.1,328.7 738.5,327.5 C744.9,326.3 745.6,326.8 752.0,325.5 C758.4,324.2 769.5,320.9 777.0,319.5 C784.5,318.1 788.7,316.8 797.0,317.0 C805.3,317.2 817.8,319.2 827.0,320.5 C836.2,321.8 841.6,323.8 852.0,325.0 C862.4,326.2 879.1,326.3 889.5,327.5 C899.9,328.7 904.1,331.2 914.5,332.0 C924.9,332.8 941.6,332.4 952.0,332.5 C962.4,332.6 968.7,331.9 977.0,332.5 C985.3,333.1 993.7,333.5 1002.0,336.0 C1010.3,338.5 1018.7,343.5 1027.0,347.5 C1035.3,351.5 1043.7,356.4 1052.0,360.0 C1060.3,363.6 1070.7,366.9 1077.0,369.0 C1083.3,371.1 1085.7,371.4 1090.0,372.6 C1094.3,373.8 1098.0,375.5 1103.0,376.3 C1108.0,377.1 1103.8,377.1 1120.0,377.3 C1136.2,377.5 1181.2,378.1 1200.5,377.3 C1219.8,376.5 1222.6,375.6 1235.5,372.5 C1248.4,369.4 1265.9,362.7 1278.0,358.8 C1290.1,354.8 1295.5,351.8 1308.0,348.8 C1320.5,345.7 1341.3,342.6 1353.0,340.5 C1364.7,338.4 1369.7,336.3 1378.0,336.0 C1386.3,335.7 1394.0,338.1 1403.0,338.8 C1412.0,339.4 1427.0,339.8 1431.8,340.0" fill="none" stroke="#ffff00" stroke-width="1.4"/>
<path d="M6.0,291.0 C8.2,291.5 15.0,294.5 19.0,294.0 C23.0,293.5 24.4,293.2 30.0,288.0 C35.6,282.8 44.2,270.4 52.5,262.5 C60.8,254.6 73.8,243.9 80.0,240.5 C86.2,237.1 85.4,240.0 90.0,242.0 C94.6,244.0 102.5,249.7 107.5,252.5 C112.5,255.3 116.2,258.8 120.0,259.0 C123.8,259.2 125.8,258.3 130.0,253.5 C134.2,248.7 141.7,235.2 145.0,230.0 C148.3,224.8 145.4,231.2 150.0,222.5 C154.6,213.8 165.8,188.8 172.5,177.5 C179.2,166.2 185.0,160.8 190.0,155.0 C195.0,149.2 198.8,145.5 202.5,143.0 C206.2,140.5 207.5,140.8 212.5,140.0 C217.5,139.2 225.4,142.0 232.5,138.0 C239.6,134.0 250.0,120.2 255.0,116.0 C260.0,111.8 259.2,114.8 262.5,112.5 C265.8,110.2 271.4,104.2 275.0,102.5 C278.6,100.8 279.2,101.7 284.0,102.5 C288.8,103.3 298.4,104.2 304.0,107.5 C309.6,110.8 312.8,116.7 317.5,122.5 C322.2,128.3 327.9,136.2 332.5,142.5 C337.1,148.8 341.2,152.1 345.0,160.0 C348.8,167.9 351.2,179.2 355.0,190.0 C358.8,200.8 364.0,216.5 367.5,225.0 C371.0,233.5 372.9,233.9 376.0,241.0 C379.1,248.1 381.8,259.8 386.0,267.5 C390.2,275.2 396.0,281.1 401.0,287.5 C406.0,293.9 411.8,302.1 416.0,306.0 C420.2,309.9 422.5,309.9 426.0,311.0 C429.5,312.1 433.2,310.2 437.0,312.5 C440.8,314.8 444.9,321.4 448.5,325.0 C452.1,328.6 453.9,330.8 458.5,334.0 C463.1,337.2 469.3,338.8 476.0,344.0 C482.7,349.2 493.5,361.2 498.5,365.0 C503.5,368.8 497.2,366.8 506.0,367.0 C514.8,367.2 541.8,365.7 551.0,366.0 C560.2,366.3 556.8,367.3 561.0,369.0 C565.2,370.7 570.2,372.7 576.0,376.0 C581.8,379.3 591.8,386.7 596.0,389.0 C600.2,391.3 598.9,390.3 601.0,390.0 C603.1,389.7 606.0,388.2 608.5,387.0 C611.0,385.8 612.2,384.2 616.0,383.0 C619.8,381.8 623.1,380.1 631.0,379.5 C638.9,378.9 656.0,380.4 663.5,379.5 C671.0,378.6 671.8,377.2 676.0,374.0 C680.2,370.8 683.1,365.8 688.5,360.0 C693.9,354.2 702.2,344.0 708.5,339.0 C714.8,334.0 720.2,332.7 726.0,330.0 C731.8,327.3 739.2,325.7 743.5,323.0 C747.8,320.3 748.5,317.7 752.0,314.0 C755.5,310.3 760.3,304.1 764.5,301.0 C768.7,297.9 772.0,296.9 777.0,295.5 C782.0,294.1 790.3,292.4 794.5,292.5 C798.7,292.6 795.8,291.6 802.0,296.0 C808.2,300.4 823.7,314.2 832.0,319.0 C840.3,323.8 844.1,323.0 852.0,325.0 C859.9,327.0 871.2,328.1 879.5,331.0 C887.8,333.9 895.8,339.2 902.0,342.5 C908.2,345.8 912.0,349.2 917.0,350.5 C922.0,351.8 926.2,351.3 932.0,350.5 C937.8,349.7 946.2,346.8 952.0,345.5 C957.8,344.2 961.2,343.2 967.0,343.0 C972.8,342.8 981.2,342.5 987.0,344.5 C992.8,346.5 997.4,350.3 1002.0,355.0 C1006.6,359.7 1010.3,366.2 1014.5,372.5 C1018.7,378.8 1020.8,384.6 1027.0,392.5 C1033.2,400.4 1046.2,415.0 1052.0,420.0 C1057.8,425.0 1057.8,420.8 1062.0,422.5 C1066.2,424.2 1072.8,428.3 1077.0,430.0 C1081.2,431.7 1082.7,432.0 1087.0,432.5 C1091.3,433.0 1098.4,433.8 1103.0,433.0 C1107.6,432.2 1110.0,430.2 1114.5,427.5 C1119.0,424.8 1122.4,420.2 1130.0,416.5 C1137.6,412.8 1149.9,408.7 1160.0,405.0 C1170.1,401.3 1182.9,396.3 1190.5,394.2 C1198.1,392.1 1200.5,394.5 1205.5,392.5 C1210.5,390.5 1216.8,384.5 1220.6,382.2 C1224.3,379.9 1224.7,381.2 1228.0,378.8 C1231.3,376.3 1235.1,373.5 1240.5,367.5 C1245.9,361.5 1254.2,349.8 1260.5,342.5 C1266.8,335.2 1273.0,327.9 1278.0,323.8 C1283.0,319.6 1285.5,321.0 1290.5,317.5 C1295.5,314.0 1301.8,305.2 1308.0,302.5 C1314.2,299.8 1320.9,302.2 1328.0,301.0 C1335.1,299.8 1343.4,296.0 1350.5,295.5 C1357.6,295.0 1364.2,295.8 1370.5,298.0 C1376.8,300.2 1382.6,305.9 1388.0,308.8 C1393.4,311.6 1398.8,312.5 1403.0,315.0 C1407.2,317.5 1408.2,320.9 1413.0,323.8 C1417.8,326.6 1428.6,330.6 1431.8,332.0" fill="none" stroke="#e8e8e8" stroke-width="1.3"/>
<path d="M315.5,232.0 l8,9.4 h-4.9 v7 h-6.2 v-7 h-4.9 z" fill="#ff0000"/>
<path d="M398.0,425.5 l8,9.4 h-4.9 v7 h-6.2 v-7 h-4.9 z" fill="#ff0000"/>
<path d="M510.5,430.8 l8,9.4 h-4.9 v7 h-6.2 v-7 h-4.9 z" fill="#ff0000"/>
<path d="M612.2,413.2 l8,9.4 h-4.9 v7 h-6.2 v-7 h-4.9 z" fill="#ff0000"/>
<path d="M848.2,369.5 l8,9.4 h-4.9 v7 h-6.2 v-7 h-4.9 z" fill="#ff0000"/>
<path d="M930.8,368.2 l8,9.4 h-4.9 v7 h-6.2 v-7 h-4.9 z" fill="#ff0000"/>
<path d="M1053.8,483.2 l8,9.4 h-4.9 v7 h-6.2 v-7 h-4.9 z" fill="#ff0000"/>
<path d="M1361.0,379.0 l8,9.4 h-4.9 v7 h-6.2 v-7 h-4.9 z" fill="#ff0000"/>
<path d="M59.1,195.4 l-6.9,-7.1 h4.8 v-7.1 h4.2 v7.1 h4.8 z" fill="none" stroke="#00e600" stroke-width="1.5" stroke-linejoin="round"/>
<path d="M80.0,190.9 l-6.9,-7.1 h4.8 v-7.1 h4.2 v7.1 h4.8 z" fill="none" stroke="#00e600" stroke-width="1.5" stroke-linejoin="round"/>
<path d="M203.0,57.7 l-6.9,-7.1 h4.8 v-7.1 h4.2 v7.1 h4.8 z" fill="none" stroke="#00e600" stroke-width="1.5" stroke-linejoin="round"/>
<path d="M714.2,277.8 l-6.9,-7.1 h4.8 v-7.1 h4.2 v7.1 h4.8 z" fill="none" stroke="#00e600" stroke-width="1.5" stroke-linejoin="round"/>
<path d="M776.2,255.2 l-6.9,-7.1 h4.8 v-7.1 h4.2 v7.1 h4.8 z" fill="none" stroke="#00e600" stroke-width="1.5" stroke-linejoin="round"/>
<path d="M981.5,329.0 l-6.9,-7.1 h4.8 v-7.1 h4.2 v7.1 h4.8 z" fill="none" stroke="#00e600" stroke-width="1.5" stroke-linejoin="round"/>
<path d="M1299.2,254.0 l-6.9,-7.1 h4.8 v-7.1 h4.2 v7.1 h4.8 z" fill="none" stroke="#00e600" stroke-width="1.5" stroke-linejoin="round"/>
<path d="M1186.8,362.0 l-6.9,-7.1 h4.8 v-7.1 h4.2 v7.1 h4.8 z" fill="none" stroke="#00e600" stroke-width="1.5" stroke-linejoin="round"/>
<path d="M1165.9,392.2 l-6.9,-7.1 h4.8 v-7.1 h4.2 v7.1 h4.8 z" fill="none" stroke="#00e600" stroke-width="1.5" stroke-linejoin="round"/>
<path d="M1238.0,231.2 l-7.6,-8.2 h4.4 v-8.4 h6.4 v8.4 h4.4 z" fill="#00ff00"/>
<line x1="2.0" y1="251.2" x2="1467.0" y2="251.2" stroke="#ffff00" stroke-width="1.6" />
<line x1="2.0" y1="325.0" x2="1467.0" y2="325.0" stroke="#ffff00" stroke-width="1.6" />
<line x1="2.0" y1="389.3" x2="1467.0" y2="389.3" stroke="#ffff00" stroke-width="1.6" />
<line x1="2.0" y1="442.0" x2="1467.0" y2="442.0" stroke="#ffff00" stroke-width="1.6" />
<line x1="1167.0" y1="395.4" x2="1467.0" y2="395.4" stroke="#b4b4b4" stroke-width="1.5" />
<line x1="242.5" y1="39.5" x2="1447.0" y2="521.5" stroke="#ffff00" stroke-width="1.3" />
<line x1="2.5" y1="255.5" x2="661.8" y2="521.8" stroke="#ffff00" stroke-width="1.3" />
<line x1="1027.0" y1="39.5" x2="1467.5" y2="215.5" stroke="#ffff00" stroke-width="1.3" />
<line x1="1002.4" y1="521.9" x2="1467.5" y2="362.5" stroke="#ffff00" stroke-width="1.3" />
<g fill="none" stroke="#e0e0e0" stroke-width="1.2">
<path d="M180.8,47 V41.3 H187 M182,44 L185,49.2 M181.4,43 L198,49.4"/>
<path d="M1022,513 H1039 M1026.5,509 L1021.5,513 L1026.5,518"/>
</g>
<rect x="3.40" y="585.50" width="7.7" height="127.10" fill="#00ffff"/>
<rect x="13.90" y="608.00" width="7.7" height="104.60" fill="#00ffff"/>
<rect x="25.15" y="618.25" width="6.20" height="93.60" fill="none" stroke="#f23a3a" stroke-width="1.5"/>
<rect x="34.15" y="601.50" width="6.20" height="110.35" fill="none" stroke="#f23a3a" stroke-width="1.5"/>
<rect x="43.90" y="613.75" width="7.7" height="98.85" fill="#00ffff"/>
<rect x="55.15" y="612.00" width="6.20" height="99.85" fill="none" stroke="#f23a3a" stroke-width="1.5"/>
<rect x="65.65" y="597.00" width="6.20" height="114.85" fill="none" stroke="#f23a3a" stroke-width="1.5"/>
<rect x="76.15" y="610.75" width="6.20" height="101.10" fill="none" stroke="#f23a3a" stroke-width="1.5"/>
<rect x="85.90" y="605.50" width="7.7" height="107.10" fill="#00ffff"/>
<rect x="94.90" y="612.50" width="7.7" height="100.10" fill="#00ffff"/>
<rect x="106.15" y="631.25" width="6.20" height="80.60" fill="none" stroke="#f23a3a" stroke-width="1.5"/>
<rect x="115.90" y="630.50" width="7.7" height="82.10" fill="#00ffff"/>
<rect x="127.15" y="607.50" width="6.20" height="104.35" fill="none" stroke="#f23a3a" stroke-width="1.5"/>
<rect x="137.65" y="582.00" width="6.20" height="129.85" fill="none" stroke="#f23a3a" stroke-width="1.5"/>
<rect x="147.40" y="586.75" width="7.7" height="125.85" fill="#00ffff"/>
<rect x="157.15" y="592.50" width="6.20" height="119.35" fill="none" stroke="#f23a3a" stroke-width="1.5"/>
<rect x="167.65" y="582.00" width="6.20" height="129.85" fill="none" stroke="#f23a3a" stroke-width="1.5"/>
<rect x="177.40" y="570.50" width="7.7" height="142.10" fill="#00ffff"/>
<rect x="187.90" y="609.50" width="7.7" height="103.10" fill="#00ffff"/>
<rect x="199.15" y="606.25" width="6.20" height="105.60" fill="none" stroke="#f23a3a" stroke-width="1.5"/>
<rect x="208.90" y="612.50" width="7.7" height="100.10" fill="#00ffff"/>
<rect x="218.65" y="631.25" width="6.20" height="80.60" fill="none" stroke="#f23a3a" stroke-width="1.5"/>
<rect x="228.40" y="613.75" width="7.7" height="98.85" fill="#00ffff"/>
<rect x="239.65" y="612.00" width="6.20" height="99.85" fill="none" stroke="#f23a3a" stroke-width="1.5"/>
<rect x="250.15" y="612.00" width="6.20" height="99.85" fill="none" stroke="#f23a3a" stroke-width="1.5"/>
<rect x="259.90" y="620.00" width="7.7" height="92.60" fill="#00ffff"/>
<rect x="271.15" y="624.00" width="6.20" height="87.85" fill="none" stroke="#f23a3a" stroke-width="1.5"/>
<rect x="279.40" y="612.50" width="7.7" height="100.10" fill="#00ffff"/>
<rect x="289.90" y="619.50" width="7.7" height="93.10" fill="#00ffff"/>
<rect x="300.40" y="635.00" width="7.7" height="77.60" fill="#00ffff"/>
<rect x="310.90" y="621.25" width="7.7" height="91.35" fill="#00ffff"/>
<rect x="321.40" y="633.50" width="7.7" height="79.10" fill="#00ffff"/>
<rect x="331.90" y="630.50" width="7.7" height="82.10" fill="#00ffff"/>
<rect x="341.65" y="650.75" width="6.20" height="61.10" fill="none" stroke="#f23a3a" stroke-width="1.5"/>
<rect x="351.40" y="620.00" width="7.7" height="92.60" fill="#00ffff"/>
<rect x="362.65" y="642.00" width="6.20" height="69.85" fill="none" stroke="#f23a3a" stroke-width="1.5"/>
<rect x="373.15" y="648.25" width="6.20" height="63.60" fill="none" stroke="#f23a3a" stroke-width="1.5"/>
<rect x="382.90" y="655.50" width="7.7" height="57.10" fill="#00ffff"/>
<rect x="394.15" y="634.50" width="6.20" height="77.35" fill="none" stroke="#f23a3a" stroke-width="1.5"/>
<rect x="402.40" y="653.00" width="7.7" height="59.60" fill="#00ffff"/>
<rect x="413.65" y="653.75" width="6.20" height="58.10" fill="none" stroke="#f23a3a" stroke-width="1.5"/>
<rect x="424.15" y="648.75" width="6.20" height="63.10" fill="none" stroke="#f23a3a" stroke-width="1.5"/>
<rect x="434.65" y="643.75" width="6.20" height="68.10" fill="none" stroke="#f23a3a" stroke-width="1.5"/>
<rect x="444.40" y="636.25" width="7.7" height="76.35" fill="#00ffff"/>
<rect x="454.90" y="653.00" width="7.7" height="59.60" fill="#00ffff"/>
<rect x="464.65" y="653.75" width="6.20" height="58.10" fill="none" stroke="#f23a3a" stroke-width="1.5"/>
<rect x="474.40" y="655.50" width="7.7" height="57.10" fill="#00ffff"/>
<rect x="484.90" y="655.50" width="7.7" height="57.10" fill="#00ffff"/>
<rect x="496.15" y="665.75" width="6.20" height="46.10" fill="none" stroke="#f23a3a" stroke-width="1.5"/>
<rect x="506.65" y="657.75" width="6.20" height="54.10" fill="none" stroke="#f23a3a" stroke-width="1.5"/>
<rect x="517.15" y="649.50" width="6.20" height="62.35" fill="none" stroke="#f23a3a" stroke-width="1.5"/>
<rect x="526.15" y="657.00" width="6.20" height="54.85" fill="none" stroke="#f23a3a" stroke-width="1.5"/>
<rect x="536.65" y="655.25" width="6.20" height="56.60" fill="none" stroke="#f23a3a" stroke-width="1.5"/>
<rect x="546.40" y="656.25" width="7.7" height="56.35" fill="#00ffff"/>
<rect x="556.90" y="651.75" width="7.7" height="60.85" fill="#00ffff"/>
<rect x="567.40" y="658.75" width="7.7" height="53.85" fill="#00ffff"/>
<rect x="577.90" y="660.50" width="7.7" height="52.10" fill="#00ffff"/>
<rect x="586.90" y="662.00" width="7.7" height="50.60" fill="#00ffff"/>
<rect x="598.15" y="665.75" width="6.20" height="46.10" fill="none" stroke="#f23a3a" stroke-width="1.5"/>
<rect x="608.65" y="640.25" width="6.20" height="71.60" fill="none" stroke="#f23a3a" stroke-width="1.5"/>
<rect x="618.40" y="643.75" width="7.7" height="68.85" fill="#00ffff"/>
<rect x="629.65" y="653.25" width="6.20" height="58.60" fill="none" stroke="#f23a3a" stroke-width="1.5"/>
<rect x="639.40" y="651.25" width="7.7" height="61.35" fill="#00ffff"/>
<rect x="649.15" y="669.00" width="6.20" height="42.85" fill="none" stroke="#f23a3a" stroke-width="1.5"/>
<rect x="658.90" y="670.50" width="7.7" height="42.10" fill="#00ffff"/>
<rect x="669.40" y="647.00" width="7.7" height="65.60" fill="#00ffff"/>
<rect x="680.65" y="631.25" width="6.20" height="80.60" fill="none" stroke="#f23a3a" stroke-width="1.5"/>
<rect x="691.15" y="632.75" width="6.20" height="79.10" fill="none" stroke="#f23a3a" stroke-width="1.5"/>
<rect x="701.65" y="653.75" width="6.20" height="58.10" fill="none" stroke="#f23a3a" stroke-width="1.5"/>
<rect x="709.90" y="643.75" width="7.7" height="68.85" fill="#00ffff"/>
<rect x="721.15" y="664.00" width="6.20" height="47.85" fill="none" stroke="#f23a3a" stroke-width="1.5"/>
<rect x="731.65" y="658.25" width="6.20" height="53.60" fill="none" stroke="#f23a3a" stroke-width="1.5"/>
<rect x="741.40" y="660.50" width="7.7" height="52.10" fill="#00ffff"/>
<rect x="752.65" y="642.00" width="6.20" height="69.85" fill="none" stroke="#f23a3a" stroke-width="1.5"/>
<rect x="763.15" y="652.75" width="6.20" height="59.10" fill="none" stroke="#f23a3a" stroke-width="1.5"/>
<rect x="771.40" y="653.75" width="7.7" height="58.85" fill="#00ffff"/>
<rect x="781.90" y="657.50" width="7.7" height="55.10" fill="#00ffff"/>
<rect x="793.15" y="669.00" width="6.20" height="42.85" fill="none" stroke="#f23a3a" stroke-width="1.5"/>
<rect x="802.90" y="653.00" width="7.7" height="59.60" fill="#00ffff"/>
<rect x="813.40" y="670.75" width="7.7" height="41.85" fill="#00ffff"/>
<rect x="823.90" y="673.75" width="7.7" height="38.85" fill="#00ffff"/>
<rect x="832.90" y="670.50" width="7.7" height="42.10" fill="#00ffff"/>
<rect x="844.15" y="673.25" width="6.20" height="38.60" fill="none" stroke="#f23a3a" stroke-width="1.5"/>
<rect x="854.65" y="665.75" width="6.20" height="46.10" fill="none" stroke="#f23a3a" stroke-width="1.5"/>
<rect x="864.40" y="675.00" width="7.7" height="37.60" fill="#00ffff"/>
<rect x="874.90" y="668.75" width="7.7" height="43.85" fill="#00ffff"/>
<rect x="885.40" y="671.25" width="7.7" height="41.35" fill="#00ffff"/>
<rect x="895.15" y="671.50" width="6.20" height="40.35" fill="none" stroke="#f23a3a" stroke-width="1.5"/>
<rect x="904.90" y="660.50" width="7.7" height="52.10" fill="#00ffff"/>
<rect x="916.15" y="676.25" width="6.20" height="35.60" fill="none" stroke="#f23a3a" stroke-width="1.5"/>
<rect x="926.65" y="669.50" width="6.20" height="42.35" fill="none" stroke="#f23a3a" stroke-width="1.5"/>
<rect x="937.15" y="672.00" width="6.20" height="39.85" fill="none" stroke="#f23a3a" stroke-width="1.5"/>
<rect x="947.65" y="673.25" width="6.20" height="38.60" fill="none" stroke="#f23a3a" stroke-width="1.5"/>
<rect x="955.90" y="675.00" width="7.7" height="37.60" fill="#00ffff"/>
<rect x="967.15" y="670.75" width="6.20" height="41.10" fill="none" stroke="#f23a3a" stroke-width="1.5"/>
<rect x="976.90" y="672.50" width="7.7" height="40.10" fill="#00ffff"/>
<rect x="987.40" y="672.50" width="7.7" height="40.10" fill="#00ffff"/>
<rect x="998.65" y="661.50" width="6.20" height="50.35" fill="none" stroke="#f23a3a" stroke-width="1.5"/>
<rect x="1008.40" y="665.00" width="7.7" height="47.60" fill="#00ffff"/>
<rect x="1018.15" y="648.25" width="6.20" height="63.60" fill="none" stroke="#f23a3a" stroke-width="1.5"/>
<rect x="1027.90" y="668.75" width="7.7" height="43.85" fill="#00ffff"/>
<rect x="1039.15" y="670.25" width="6.20" height="41.60" fill="none" stroke="#f23a3a" stroke-width="1.5"/>
<rect x="1048.90" y="669.50" width="7.7" height="43.10" fill="#00ffff"/>
<rect x="1060.15" y="676.50" width="6.20" height="35.35" fill="none" stroke="#f23a3a" stroke-width="1.5"/>
<rect x="1069.90" y="675.00" width="7.7" height="37.60" fill="#00ffff"/>
<rect x="1078.90" y="671.25" width="7.7" height="41.35" fill="#00ffff"/>
<rect x="1090.15" y="670.25" width="6.20" height="41.60" fill="none" stroke="#f23a3a" stroke-width="1.5"/>
<rect x="1100.65" y="670.25" width="6.20" height="41.60" fill="none" stroke="#f23a3a" stroke-width="1.5"/>
<rect x="1111.15" y="652.50" width="6.20" height="59.35" fill="none" stroke="#f23a3a" stroke-width="1.5"/>
<rect x="1121.65" y="660.25" width="6.20" height="51.60" fill="none" stroke="#f23a3a" stroke-width="1.5"/>
<rect x="1132.15" y="668.25" width="6.20" height="43.60" fill="none" stroke="#f23a3a" stroke-width="1.5"/>
<rect x="1140.40" y="668.75" width="7.7" height="43.85" fill="#00ffff"/>
<rect x="1151.65" y="667.75" width="6.20" height="44.10" fill="none" stroke="#f23a3a" stroke-width="1.5"/>
<rect x="1162.15" y="664.50" width="6.20" height="47.35" fill="none" stroke="#f23a3a" stroke-width="1.5"/>
<rect x="1172.65" y="654.00" width="6.20" height="57.85" fill="none" stroke="#f23a3a" stroke-width="1.5"/>
<rect x="1182.40" y="660.50" width="7.7" height="52.10" fill="#00ffff"/>
<rect x="1192.90" y="662.50" width="7.7" height="50.10" fill="#00ffff"/>
<rect x="1201.90" y="657.50" width="7.7" height="55.10" fill="#00ffff"/>
<rect x="1213.15" y="655.25" width="6.20" height="56.60" fill="none" stroke="#f23a3a" stroke-width="1.5"/>
<rect x="1223.65" y="662.75" width="6.20" height="49.10" fill="none" stroke="#f23a3a" stroke-width="1.5"/>
<rect x="1234.15" y="649.50" width="6.20" height="62.35" fill="none" stroke="#f23a3a" stroke-width="1.5"/>
<rect x="1244.65" y="627.00" width="6.20" height="84.85" fill="none" stroke="#f23a3a" stroke-width="1.5"/>
<rect x="1255.15" y="654.50" width="6.20" height="57.35" fill="none" stroke="#f23a3a" stroke-width="1.5"/>
<rect x="1264.15" y="645.25" width="6.20" height="66.60" fill="none" stroke="#f23a3a" stroke-width="1.5"/>
<rect x="1273.90" y="643.00" width="7.7" height="69.60" fill="#00ffff"/>
<rect x="1284.40" y="647.00" width="7.7" height="65.60" fill="#00ffff"/>
<rect x="1295.65" y="657.00" width="6.20" height="54.85" fill="none" stroke="#f23a3a" stroke-width="1.5"/>
<rect x="1305.40" y="648.75" width="7.7" height="63.85" fill="#00ffff"/>
<rect x="1315.90" y="647.50" width="7.7" height="65.10" fill="#00ffff"/>
<rect x="1325.65" y="666.25" width="6.20" height="45.60" fill="none" stroke="#f23a3a" stroke-width="1.5"/>
<rect x="1336.15" y="667.75" width="6.20" height="44.10" fill="none" stroke="#f23a3a" stroke-width="1.5"/>
<rect x="1346.65" y="661.50" width="6.20" height="50.35" fill="none" stroke="#f23a3a" stroke-width="1.5"/>
<rect x="1356.40" y="664.50" width="7.7" height="48.10" fill="#00ffff"/>
<rect x="1367.65" y="667.00" width="6.20" height="44.85" fill="none" stroke="#f23a3a" stroke-width="1.5"/>
<rect x="1377.40" y="665.00" width="7.7" height="47.60" fill="#00ffff"/>
<rect x="1386.40" y="659.25" width="7.7" height="53.35" fill="#00ffff"/>
<rect x="1397.65" y="675.25" width="6.20" height="36.60" fill="none" stroke="#f23a3a" stroke-width="1.5"/>
<rect x="1407.40" y="678.25" width="7.7" height="34.35" fill="#00ffff"/>
<rect x="1418.65" y="677.75" width="6.20" height="34.10" fill="none" stroke="#f23a3a" stroke-width="1.5"/>
<rect x="1429.15" y="676.50" width="6.20" height="35.35" fill="none" stroke="#f23a3a" stroke-width="1.5"/>
<polyline points="7.0,580.0 17.5,578.0 28.2,578.8 37.5,583.0 47.5,585.0 58.0,589.5 68.5,595.5 79.0,600.0 89.5,603.0 98.8,607.0 109.0,612.5 119.5,613.0 130.0,612.5 140.5,610.0 151.0,607.5 161.2,605.5 170.5,604.5 181.0,600.0 191.5,601.2 202.0,599.5 212.5,598.0 221.5,598.0 232.0,600.5 242.5,602.5 253.0,604.5 263.5,607.0 274.0,611.2 283.0,615.0 293.5,618.0 304.0,620.5 314.5,620.5 325.0,620.5 335.5,622.5 344.5,626.2 355.0,627.0 365.5,629.5 376.0,631.2 386.0,635.5 397.2,637.0 407.2,639.5 417.2,641.2 427.2,643.0 438.0,644.5 448.5,645.5 458.5,647.0 468.5,648.0 478.5,648.8 488.5,650.0 499.0,651.2 509.8,652.0 519.8,653.0 529.8,653.8 539.8,654.5 551.0,655.5 561.0,655.5 571.0,656.2 581.0,657.0 591.0,657.5 601.0,658.0 611.0,657.0 622.2,655.5 633.0,655.0 642.2,655.0 652.2,655.5 662.2,657.5 672.2,657.0 683.5,653.8 693.5,651.2 704.8,649.5 713.5,649.5 724.8,651.2 734.8,652.0 744.8,653.0 752.0,650.0 762.0,648.8 773.2,648.8 784.5,652.0 794.5,654.5 805.8,656.2 815.8,658.0 825.8,660.0 835.8,661.2 845.8,662.5 857.0,664.5 867.0,666.2 878.2,668.8 888.2,670.0 899.5,670.0 909.5,670.0 919.5,670.0 929.5,669.5 939.5,670.0 950.8,670.0 960.8,670.5 970.8,670.5 980.8,671.2 992.0,671.2 1002.0,670.5 1012.0,670.0 1022.0,668.8 1032.0,668.8 1042.0,667.5 1052.0,667.0 1063.2,667.0 1073.2,668.8 1083.2,668.8 1093.2,668.0 1104.5,668.8 1114.5,668.0 1124.5,668.8 1128.0,668.8 1140.5,668.8 1159.2,668.0 1165.5,667.0 1175.5,665.5 1186.0,663.0 1196.8,662.5 1206.8,660.5 1216.8,662.0 1226.8,662.0 1238.0,659.5 1248.0,655.5 1258.0,652.5 1268.0,651.2 1278.0,651.2 1288.0,649.5 1298.0,648.8 1309.2,648.8 1319.2,648.0 1329.2,649.5 1339.2,651.2 1350.5,653.8 1360.5,655.5 1370.5,657.5 1380.5,659.5 1390.5,661.2 1401.8,662.5 1411.8,665.0 1421.8,668.0 1431.8,668.8" fill="none" stroke="#ffff00" stroke-width="1.4" stroke-linejoin="round" />
<polyline points="7.0,569.5 17.5,582.5 28.2,594.5 37.5,597.0 47.5,604.5 58.0,609.5 68.5,607.5 79.0,607.0 89.5,607.0 98.8,607.5 109.0,612.5 119.5,619.5 130.0,617.5 140.5,613.8 151.0,607.5 161.2,598.0 170.5,590.0 181.0,584.5 191.5,589.5 202.0,592.0 212.5,597.0 221.5,607.0 232.0,614.5 242.5,616.2 253.0,616.2 263.5,619.5 274.0,618.8 283.0,616.2 293.5,619.5 304.0,623.8 314.5,624.5 325.0,625.5 335.5,628.8 344.5,634.5 355.0,632.0 365.5,635.0 376.0,638.0 386.0,643.0 397.2,640.0 407.2,646.2 417.2,649.2 427.2,648.8 438.0,646.2 448.5,647.5 458.5,647.5 468.5,648.8 478.5,650.0 488.5,651.2 499.0,656.2 509.8,658.0 519.8,656.2 529.8,656.2 539.8,656.2 551.0,655.5 561.0,654.5 571.0,656.2 581.0,657.0 591.0,657.5 601.0,660.0 611.0,657.0 622.2,656.2 633.0,653.0 642.2,650.5 652.2,653.8 662.2,657.5 672.2,657.5 683.5,653.8 693.5,650.0 704.8,646.2 713.5,642.0 724.8,645.0 734.8,650.0 744.8,655.0 752.0,653.8 762.0,655.0 773.2,653.0 784.5,653.8 794.5,655.0 805.8,657.5 815.8,662.0 825.8,666.2 835.8,668.8 845.8,669.2 857.0,671.2 867.0,671.2 878.2,671.2 888.2,670.5 899.5,670.5 909.5,670.0 919.5,670.0 929.5,669.5 939.5,670.5 950.8,670.5 960.8,672.0 970.8,671.2 980.8,672.5 992.0,672.5 1002.0,670.0 1012.0,667.0 1022.0,663.8 1032.0,662.5 1042.0,662.5 1052.0,663.8 1063.2,666.2 1073.2,670.5 1083.2,672.5 1093.2,672.5 1104.5,672.5 1114.5,668.0 1124.5,664.5 1128.0,664.5 1140.5,664.5 1159.2,663.8 1165.5,665.0 1175.5,665.5 1186.0,664.5 1196.8,662.5 1206.8,658.8 1216.8,657.5 1226.8,660.0 1238.0,656.2 1248.0,649.5 1258.0,648.0 1268.0,645.0 1278.0,643.0 1288.0,643.0 1298.0,647.5 1309.2,648.8 1319.2,650.0 1329.2,655.0 1339.2,657.5 1350.5,658.0 1360.5,660.5 1370.5,664.5 1380.5,665.0 1390.5,662.5 1401.8,666.2 1411.8,668.8 1421.8,671.2 1431.8,673.0" fill="none" stroke="#e8e8e8" stroke-width="1.3" stroke-linejoin="round" />
<polyline points="7.0,796.0 17.5,806.0 27.5,811.0 37.5,811.5 47.5,808.0 58.8,803.0 68.8,798.0 79.5,793.0 88.8,794.8 98.8,801.5 109.2,809.0 120.0,818.5 130.0,817.2 140.0,813.0 150.0,806.0 161.2,796.5 170.5,789.8 185.0,784.0 192.5,782.2 203.8,779.0 212.5,781.5 222.5,787.2 232.5,796.0 242.5,799.0 252.5,798.0 262.5,797.2 274.5,793.0 283.8,795.5 293.8,799.8 303.8,804.0 315.0,814.8 325.0,824.8 335.0,833.5 345.0,840.5 355.0,845.5 366.2,850.5 376.0,853.0 386.0,856.0 397.2,855.5 407.2,854.0 417.2,853.0 427.2,849.8 438.0,841.0 448.5,836.0 458.5,833.0 468.5,829.8 478.5,827.2 488.5,829.0 499.0,833.0 509.8,833.0 519.8,829.8 529.8,824.0 539.8,818.5 551.0,814.0 561.0,811.0 571.0,812.2 581.0,816.5 591.0,823.5 601.0,829.0 611.0,825.5 622.2,818.0 633.0,810.5 642.2,806.5 652.2,804.0 662.2,802.2 672.2,800.5 683.5,795.5 693.5,789.8 704.8,784.8 713.5,782.2 724.8,781.5 734.8,780.5 744.8,780.5 752.0,779.8 755.8,779.0 765.0,776.0 774.5,778.0 784.5,781.0 797.0,786.0 807.0,796.0 817.0,808.0 827.0,820.5 835.8,829.8 847.0,835.5 858.2,838.0 868.2,838.0 879.0,837.2 888.2,839.0 898.2,836.5 909.5,837.8 919.5,839.0 929.5,837.2 939.5,829.8 949.5,819.0 960.0,809.0 970.8,801.5 980.8,797.2 990.8,800.5 1000.8,808.0 1011.5,818.5 1020.8,826.0 1031.5,831.5 1042.0,836.5 1053.2,839.0 1063.2,839.8 1073.2,838.5 1083.2,833.5 1093.2,828.5 1104.5,820.5 1114.5,809.0 1124.5,801.0 1128.0,798.5 1134.2,794.0 1154.2,783.0 1165.5,781.0 1175.5,779.0 1185.5,779.8 1195.5,781.5 1205.5,785.5 1215.5,785.5 1226.8,782.2 1237.2,778.0 1248.0,776.0 1256.8,774.8 1268.0,773.0 1278.0,771.5 1288.0,770.5 1299.2,769.8 1309.2,769.0 1319.2,776.0 1329.2,786.0 1339.2,795.5 1350.0,801.0 1360.5,809.8 1370.0,814.8 1380.5,825.5 1390.5,836.0 1401.0,841.0 1411.8,846.0 1421.8,851.0 1431.8,853.5" fill="none" stroke="#ffff00" stroke-width="1.4" stroke-linejoin="round" />
<polyline points="7.0,806.0 17.5,822.2 27.5,824.8 37.5,811.0 47.5,801.0 58.8,793.0 68.8,788.0 79.5,783.5 88.8,795.5 98.8,814.8 109.2,824.0 120.0,837.2 130.0,818.0 140.0,803.0 150.0,791.5 161.2,779.8 170.5,774.8 185.0,774.8 192.5,776.5 203.8,776.0 212.5,784.8 222.5,797.2 232.5,814.0 242.5,806.0 252.5,796.5 262.5,795.5 274.5,785.5 283.8,798.5 293.8,808.5 303.8,813.5 315.0,833.5 325.0,845.5 335.0,851.0 345.0,853.0 355.0,855.5 366.2,858.0 376.0,858.5 386.0,862.2 397.2,854.0 407.2,851.0 417.2,851.0 427.2,844.8 438.0,823.0 448.5,826.0 458.5,831.0 468.5,823.5 478.5,821.5 488.5,833.0 499.0,840.5 509.8,833.5 519.8,823.5 529.8,814.8 539.8,807.2 551.0,804.8 561.0,806.5 571.0,817.2 581.0,824.0 591.0,837.2 601.0,839.8 611.0,818.5 622.2,804.8 633.0,794.8 642.2,798.5 652.2,800.5 662.2,799.0 672.2,796.5 683.5,787.2 693.5,779.0 704.8,773.5 713.5,778.0 724.8,780.5 734.8,777.2 744.8,780.5 752.0,777.2 755.8,775.5 765.0,770.5 774.5,779.0 784.5,788.5 797.0,793.5 807.0,814.8 817.0,828.5 827.0,841.0 835.8,847.2 847.0,849.8 858.2,842.2 868.2,838.0 879.0,836.0 888.2,842.2 898.2,832.2 909.5,839.8 919.5,841.0 929.5,829.8 939.5,816.0 949.5,799.0 960.0,790.5 970.8,786.0 980.8,790.5 990.8,803.5 1000.8,821.0 1011.5,838.0 1020.8,842.2 1031.5,845.5 1042.0,844.0 1053.2,846.5 1063.2,839.8 1073.2,834.8 1083.2,826.0 1093.2,819.8 1104.5,804.0 1114.5,789.0 1124.5,784.0 1128.0,781.5 1134.2,779.0 1154.2,770.5 1165.5,778.0 1175.5,774.8 1185.5,779.0 1195.5,786.0 1205.5,794.8 1215.5,784.8 1226.8,776.0 1237.2,770.5 1248.0,773.5 1256.8,773.5 1268.0,769.0 1278.0,767.2 1288.0,769.8 1299.2,767.2 1309.2,769.0 1319.2,789.8 1329.2,806.5 1339.2,813.5 1350.0,814.0 1360.5,826.0 1370.0,828.5 1380.5,843.5 1390.5,852.2 1401.0,854.8 1411.8,859.8 1421.8,859.8 1431.8,853.0" fill="none" stroke="#e8e8e8" stroke-width="1.3" stroke-linejoin="round" />
<polyline points="7.0,826.0 17.5,856.0 27.5,853.0 37.5,809.8 47.5,788.5 58.8,774.0 68.8,767.2 79.5,764.8 88.8,796.0 98.8,838.5 109.2,853.0 120.0,875.5 130.0,821.0 140.0,779.8 150.0,762.2 161.2,748.0 170.5,745.5 185.0,759.8 192.5,764.0 203.8,769.8 212.5,788.5 222.5,821.0 232.5,852.2 242.5,819.8 252.5,796.0 262.5,792.2 274.5,768.0 283.8,802.2 293.8,824.8 303.8,834.8 315.0,873.0 325.0,887.2 335.0,889.0 345.0,881.0 355.0,878.5 366.2,871.5 376.0,871.0 386.0,876.0 397.2,852.2 407.2,846.5 417.2,848.5 427.2,830.5 438.0,787.2 448.5,806.0 458.5,823.5 468.5,808.0 478.5,811.0 488.5,842.2 499.0,857.2 509.8,832.2 519.8,809.8 529.8,794.8 539.8,782.2 551.0,786.0 561.0,794.8 571.0,823.0 581.0,836.0 591.0,866.0 601.0,859.8 611.0,796.0 622.2,774.8 633.0,764.8 642.2,783.0 652.2,791.0 662.2,793.0 672.2,788.5 683.5,768.5 693.5,758.5 704.8,752.2 713.5,767.2 724.8,779.8 734.8,774.0 744.8,782.2 752.0,771.0 755.8,766.0 765.0,760.5 774.5,782.2 784.5,803.5 797.0,809.8 807.0,856.0 817.0,874.8 827.0,887.2 835.8,889.0 847.0,878.5 858.2,851.0 868.2,839.0 879.0,833.5 888.2,849.8 898.2,822.2 909.5,847.2 919.5,844.8 929.5,816.0 939.5,788.5 949.5,758.5 960.0,751.5 970.8,754.0 980.8,776.0 990.8,809.8 1000.8,843.5 1011.5,878.5 1020.8,874.0 1031.5,872.2 1042.0,860.5 1053.2,859.8 1063.2,841.0 1073.2,826.0 1083.2,812.2 1093.2,797.2 1104.5,769.8 1114.5,748.0 1124.5,746.5 1128.0,746.5 1134.2,748.0 1154.2,748.0 1165.5,770.5 1175.5,769.0 1185.5,778.5 1195.5,792.2 1205.5,811.0 1215.5,783.5 1226.8,764.0 1237.2,755.5 1248.0,767.2 1256.8,769.0 1268.0,760.5 1278.0,760.5 1288.0,769.0 1299.2,761.5 1309.2,766.0 1319.2,811.0 1329.2,848.0 1339.2,849.8 1350.0,839.8 1360.5,859.0 1370.0,858.0 1380.5,879.8 1390.5,888.5 1401.0,881.5 1411.8,884.0 1421.8,879.0 1432.2,857.2" fill="none" stroke="#ff00ff" stroke-width="1.4" stroke-linejoin="round" />
<rect x="2" y="538.55" width="1502" height="1.9" fill="#820000"/>
<rect x="2" y="714.2" width="1466" height="1.8" fill="#820000"/>
<rect x="1468" y="713.8" width="36" height="3.8" fill="#820000"/>
<rect x="2" y="891.4" width="1502" height="1.8" fill="#820000"/>
<rect x="1467.15" y="13" width="1.9" height="701" fill="#820000"/>
<rect x="1467.4" y="714" width="3.4" height="179" fill="#820000"/>
<rect x="1468" y="691.8" width="36" height="1.6" fill="#820000"/>
<rect x="1469" y="75.3" width="8" height="1.4" fill="#820000"/>
<rect x="1469" y="117.3" width="8" height="1.4" fill="#820000"/>
<rect x="1469" y="159.3" width="8" height="1.4" fill="#820000"/>
<rect x="1469" y="201.3" width="8" height="1.4" fill="#820000"/>
<rect x="1469" y="243.3" width="8" height="1.4" fill="#820000"/>
<rect x="1469" y="286.3" width="8" height="1.4" fill="#820000"/>
<rect x="1469" y="328.8" width="8" height="1.4" fill="#820000"/>
<rect x="1469" y="370.6" width="8" height="1.4" fill="#820000"/>
<rect x="1469" y="412.6" width="8" height="1.4" fill="#820000"/>
<rect x="1469" y="455.1" width="8" height="1.4" fill="#820000"/>
<rect x="1469" y="497.8" width="8" height="1.4" fill="#820000"/>
<rect x="1469" y="96.3" width="3.5" height="1.4" fill="#820000"/>
<rect x="1469" y="138.3" width="3.5" height="1.4" fill="#820000"/>
<rect x="1469" y="180.3" width="3.5" height="1.4" fill="#820000"/>
<rect x="1469" y="222.3" width="3.5" height="1.4" fill="#820000"/>
<rect x="1469" y="264.8" width="3.5" height="1.4" fill="#820000"/>
<rect x="1469" y="307.6" width="3.5" height="1.4" fill="#820000"/>
<rect x="1469" y="349.7" width="3.5" height="1.4" fill="#820000"/>
<rect x="1469" y="391.6" width="3.5" height="1.4" fill="#820000"/>
<rect x="1469" y="433.9" width="3.5" height="1.4" fill="#820000"/>
<rect x="1469" y="476.4" width="3.5" height="1.4" fill="#820000"/>
<rect x="1469" y="519.0" width="3.5" height="1.4" fill="#820000"/>
<rect x="1469" y="585.0" width="8" height="1.4" fill="#820000"/>
<rect x="1469" y="626.8" width="8" height="1.4" fill="#820000"/>
<rect x="1469" y="669.3" width="8" height="1.4" fill="#820000"/>
<rect x="1469" y="605.9" width="3.5" height="1.4" fill="#820000"/>
<rect x="1469" y="648.0" width="3.5" height="1.4" fill="#820000"/>
<rect x="49.3" y="893" width="1.4" height="3" fill="#820000"/>
<rect x="138.3" y="893" width="1.4" height="3" fill="#820000"/>
<rect x="191.8" y="893" width="1.4" height="3" fill="#820000"/>
<rect x="245.8" y="893" width="1.4" height="3" fill="#820000"/>
<rect x="299.3" y="893" width="1.4" height="3" fill="#820000"/>
<rect x="352.8" y="893" width="1.4" height="3" fill="#820000"/>
<rect x="404.3" y="893" width="1.4" height="3" fill="#820000"/>
<rect x="455.3" y="893" width="1.4" height="3" fill="#820000"/>
<rect x="506.8" y="893" width="1.4" height="3" fill="#820000"/>
<rect x="558.3" y="893" width="1.4" height="3" fill="#820000"/>
<rect x="608.3" y="893" width="1.4" height="3" fill="#820000"/>
<rect x="656.8" y="893" width="1.4" height="3" fill="#820000"/>
<rect x="705.8" y="893" width="1.4" height="3" fill="#820000"/>
<rect x="755.3" y="893" width="1.4" height="3" fill="#820000"/>
<rect x="812.3" y="893" width="1.4" height="3" fill="#820000"/>
<rect x="871.3" y="893" width="1.4" height="3" fill="#820000"/>
<rect x="930.3" y="893" width="1.4" height="3" fill="#820000"/>
<rect x="988.8" y="893" width="1.4" height="3" fill="#820000"/>
<rect x="1046.3" y="893" width="1.4" height="3" fill="#820000"/>
<rect x="1101.3" y="893" width="1.4" height="3" fill="#820000"/>
<rect x="1158.8" y="893" width="1.4" height="3" fill="#820000"/>
<rect x="1213.8" y="893" width="1.4" height="3" fill="#820000"/>
<rect x="1266.3" y="893" width="1.4" height="3" fill="#820000"/>
<rect x="1317.3" y="893" width="1.4" height="3" fill="#820000"/>
<rect x="1368.8" y="893" width="1.4" height="3" fill="#820000"/>
<rect x="1418.8" y="893" width="1.4" height="3" fill="#820000"/>
<rect x="1432.5" y="893.4" width="22" height="2.6" fill="#0000ff"/>
<path d="M1435.4,18.7 L1443.1,26.4 L1435.4,34.1 L1427.7,26.4 Z" fill="none" stroke="#860000" stroke-width="1.3"/>
<rect x="1450.3" y="18.7" width="13.8" height="15.4" fill="none" stroke="#8c0000" stroke-width="1.5"/>
<line x1="1459.4" y1="18.7" x2="1459.4" y2="34" stroke="#8c0000" stroke-width="1.5"/>
<text x="3.20" y="33.1" fill="#dadada" font-family="Liberation Sans, Noto Sans CJK SC, sans-serif" font-size="19.4" font-weight="300" letter-spacing="-1.37">上证指数(日线.前复权)</text>
<path d="M198.5,15.1 l8,9.4 h-4.9 v7 h-6.2 v-7 h-4.9 z" fill="#ff0000"/>
<text transform="translate(212.10 31.8) scale(1 1.045)" fill="#dadada" font-family="Liberation Sans, Noto Sans CJK SC, sans-serif" font-size="18" letter-spacing="-0.509">EXPMA(12,50)</text>
<text transform="translate(336.25 31.8) scale(1 1.045)" fill="#dadada" font-family="Liberation Sans, Noto Sans CJK SC, sans-serif" font-size="18" letter-spacing="-1.037">EXP1:</text>
<text transform="translate(390.00 31.8) scale(1 1.045)" fill="#dadada" font-family="Liberation Sans, Noto Sans CJK SC, sans-serif" font-size="18" letter-spacing="-0.533">2946.81</text>
<text transform="translate(465.60 31.8) scale(1 1.045)" fill="#ffff00" font-family="Liberation Sans, Noto Sans CJK SC, sans-serif" font-size="18" letter-spacing="-1.025">EXP2:</text>
<text transform="translate(519.40 31.8) scale(1 1.045)" fill="#ffff00" font-family="Liberation Sans, Noto Sans CJK SC, sans-serif" font-size="18" letter-spacing="-0.167">2936.57</text>
<text transform="translate(2.40 558.2) scale(1 1.045)" fill="#dadada" font-family="Liberation Sans, Noto Sans CJK SC, sans-serif" font-size="18" letter-spacing="-0.667">VOLUME:</text>
<text transform="translate(86.20 558.2) scale(1 1.045)" fill="#dadada" font-family="Liberation Sans, Noto Sans CJK SC, sans-serif" font-size="18" letter-spacing="0.155">130424144.00</text>
<text transform="translate(213.40 558.2) scale(1 1.045)" fill="#dadada" font-family="Liberation Sans, Noto Sans CJK SC, sans-serif" font-size="18" letter-spacing="-1.700">MA5:</text>
<text transform="translate(257.30 558.2) scale(1 1.045)" fill="#dadada" font-family="Liberation Sans, Noto Sans CJK SC, sans-serif" font-size="18" letter-spacing="0.123">138889024.00</text>
<text transform="translate(384.70 558.2) scale(1 1.045)" fill="#ffff00" font-family="Liberation Sans, Noto Sans CJK SC, sans-serif" font-size="18" letter-spacing="-1.275">MA10:</text>
<text transform="translate(439.60 558.2) scale(1 1.045)" fill="#ffff00" font-family="Liberation Sans, Noto Sans CJK SC, sans-serif" font-size="18" letter-spacing="0.145">153986640.00</text>
<text transform="translate(3.20 733.7) scale(1 1.045)" fill="#dadada" font-family="Liberation Sans, Noto Sans CJK SC, sans-serif" font-size="18" letter-spacing="-0.167">KDJ(9,3,3)</text>
<text transform="translate(97.90 733.7) scale(1 1.045)" fill="#dadada" font-family="Liberation Sans, Noto Sans CJK SC, sans-serif" font-size="18" letter-spacing="-3.200">K:</text>
<text transform="translate(120.00 733.7) scale(1 1.045)" fill="#dadada" font-family="Liberation Sans, Noto Sans CJK SC, sans-serif" font-size="18" letter-spacing="-1.050">15.41</text>
<text transform="translate(172.30 733.7) scale(1 1.045)" fill="#ffff00" font-family="Liberation Sans, Noto Sans CJK SC, sans-serif" font-size="18" letter-spacing="-2.000">D:</text>
<text transform="translate(197.60 733.7) scale(1 1.045)" fill="#ffff00" font-family="Liberation Sans, Noto Sans CJK SC, sans-serif" font-size="18" letter-spacing="-1.550">16.61</text>
<text transform="translate(247.90 733.7) scale(1 1.045)" fill="#ff00ff" font-family="Liberation Sans, Noto Sans CJK SC, sans-serif" font-size="18" letter-spacing="-1.300">J:</text>
<text transform="translate(270.20 733.7) scale(1 1.045)" fill="#ff00ff" font-family="Liberation Sans, Noto Sans CJK SC, sans-serif" font-size="18" letter-spacing="-0.875">13.00</text>
<text transform="translate(204.30 57.0) scale(1 1.045)" fill="#dcdcdc" font-family="Liberation Sans, Noto Sans CJK SC, sans-serif" font-size="18" letter-spacing="-0.267">3288.45</text>
<text transform="translate(1041.10 521.2) scale(1 1.045)" fill="#dcdcdc" font-family="Liberation Sans, Noto Sans CJK SC, sans-serif" font-size="18" letter-spacing="0.050">2733.92</text>
<text transform="translate(1171.75 417.4) scale(1 1.045)" fill="#dcdcdc" font-family="Liberation Sans, Noto Sans CJK SC, sans-serif" font-size="18" letter-spacing="-0.017">2870.49</text>
<text transform="translate(1243.00 417.4) scale(1 1.045)" fill="#dcdcdc" font-family="Liberation Sans, Noto Sans CJK SC, sans-serif" font-size="18" >-</text>
<text transform="translate(1254.25 417.4) scale(1 1.045)" fill="#dcdcdc" font-family="Liberation Sans, Noto Sans CJK SC, sans-serif" font-size="18" letter-spacing="0.192">2874.10</text>
<text transform="translate(1500.20 82.5) scale(1 1.045)" fill="#c00000" font-family="Liberation Sans, Noto Sans CJK SC, sans-serif" font-size="18" letter-spacing="0.033">3250.00</text>
<text transform="translate(1500.20 124.5) scale(1 1.045)" fill="#c00000" font-family="Liberation Sans, Noto Sans CJK SC, sans-serif" font-size="18" letter-spacing="0.033">3200.00</text>
<text transform="translate(1500.20 166.5) scale(1 1.045)" fill="#c00000" font-family="Liberation Sans, Noto Sans CJK SC, sans-serif" font-size="18" letter-spacing="0.033">3150.00</text>
<text transform="translate(1500.20 208.5) scale(1 1.045)" fill="#c00000" font-family="Liberation Sans, Noto Sans CJK SC, sans-serif" font-size="18" letter-spacing="0.033">3100.00</text>
<text transform="translate(1500.20 250.5) scale(1 1.045)" fill="#c00000" font-family="Liberation Sans, Noto Sans CJK SC, sans-serif" font-size="18" letter-spacing="0.033">3050.00</text>
<text transform="translate(1500.20 293.5) scale(1 1.045)" fill="#c00000" font-family="Liberation Sans, Noto Sans CJK SC, sans-serif" font-size="18" letter-spacing="0.033">3000.00</text>
<text transform="translate(1500.20 336.0) scale(1 1.045)" fill="#c00000" font-family="Liberation Sans, Noto Sans CJK SC, sans-serif" font-size="18" letter-spacing="0.033">2950.00</text>
<text transform="translate(1500.20 377.8) scale(1 1.045)" fill="#c00000" font-family="Liberation Sans, Noto Sans CJK SC, sans-serif" font-size="18" letter-spacing="0.033">2900.00</text>
<text transform="translate(1500.20 419.8) scale(1 1.045)" fill="#c00000" font-family="Liberation Sans, Noto Sans CJK SC, sans-serif" font-size="18" letter-spacing="0.033">2850.00</text>
<text transform="translate(1500.20 462.3) scale(1 1.045)" fill="#c00000" font-family="Liberation Sans, Noto Sans CJK SC, sans-serif" font-size="18" letter-spacing="0.033">2800.00</text>
<text transform="translate(1500.20 505.0) scale(1 1.045)" fill="#c00000" font-family="Liberation Sans, Noto Sans CJK SC, sans-serif" font-size="18" letter-spacing="0.033">2750.00</text>
<rect x="1469" y="264.7" width="36" height="24.3" fill="#0000ff" stroke="#7a0000" stroke-width="1.5"/>
<text transform="translate(1469.60 281.7) scale(1 1.045)" fill="#f0f0f0" font-family="Liberation Sans, Noto Sans CJK SC, sans-serif" font-size="18" letter-spacing="0.217">2997.06</text>
<text transform="translate(1489.80 592.25) scale(1 1.045)" fill="#c00000" font-family="Liberation Sans, Noto Sans CJK SC, sans-serif" font-size="18" letter-spacing="-0.025">45000</text>
<text transform="translate(1489.80 634.0) scale(1 1.045)" fill="#c00000" font-family="Liberation Sans, Noto Sans CJK SC, sans-serif" font-size="18" letter-spacing="-0.025">30000</text>
<text transform="translate(1489.80 676.5) scale(1 1.045)" fill="#c00000" font-family="Liberation Sans, Noto Sans CJK SC, sans-serif" font-size="18" letter-spacing="-0.025">15000</text>
<text x="1471.00" y="709.9" fill="#c00000" font-family="Liberation Sans, Noto Sans CJK SC, sans-serif" font-size="17.5" font-weight="300">X1万</text>
<text transform="translate(1485.50 766.25) scale(1 1.045)" fill="#c00000" font-family="Liberation Sans, Noto Sans CJK SC, sans-serif" font-size="18" >100.00</text>
<text transform="translate(1495.30 788.75) scale(1 1.045)" fill="#c00000" font-family="Liberation Sans, Noto Sans CJK SC, sans-serif" font-size="18" >80.00</text>
<text transform="translate(1495.30 822.0) scale(1 1.045)" fill="#c00000" font-family="Liberation Sans, Noto Sans CJK SC, sans-serif" font-size="18" >50.00</text>
<text transform="translate(1495.30 855.0) scale(1 1.045)" fill="#c00000" font-family="Liberation Sans, Noto Sans CJK SC, sans-serif" font-size="18" >20.00</text>
<rect x="0" y="0" width="2.2" height="896" fill="#e4e4e4"/>
<defs><linearGradient id="mg" x1="0" y1="0" x2="0" y2="1">
<stop offset="0" stop-color="#dadada"/><stop offset="0.66" stop-color="#cacaca"/><stop offset="0.74" stop-color="#a8a8a8"/><stop offset="0.86" stop-color="#505050"/><stop offset="0.96" stop-color="#0a0a0a"/><stop offset="1" stop-color="#000"/></linearGradient></defs>
<rect x="0" y="0" width="1504" height="12.8" fill="url(#mg)"/>
<rect x="580.7" y="0" width="57.5" height="8.8" fill="#e3e3e3"/>
<rect x="580.7" y="0" width="1.8" height="8.8" fill="#fafafa"/>
<rect x="636.8000000000001" y="0" width="1.4" height="8.8" fill="#ababab"/>
<rect x="647.8" y="0" width="57.9" height="8.8" fill="#e3e3e3"/>
<rect x="647.8" y="0" width="1.8" height="8.8" fill="#fafafa"/>
<rect x="704.3" y="0" width="1.4" height="8.8" fill="#ababab"/>
<rect x="2.5" y="0" width="24.5" height="3" fill="#f8f8f8"/>
<rect x="12" y="0" width="5" height="1.3" fill="#e88"/>
<rect x="40.0" y="0" width="3.2" height="1.0" fill="#222" opacity="0.8"/>
<rect x="44.2" y="0" width="2.2" height="1.6" fill="#222" opacity="0.8"/>
<rect x="48.4" y="0" width="2.2" height="1.0" fill="#222" opacity="0.8"/>
<rect x="52.6" y="0" width="3.2" height="1.6" fill="#222" opacity="0.8"/>
<rect x="56.8" y="0" width="2.2" height="1.0" fill="#222" opacity="0.8"/>
<rect x="61.0" y="0" width="2.2" height="1.6" fill="#222" opacity="0.8"/>
<rect x="65.2" y="0" width="3.2" height="1.0" fill="#222" opacity="0.8"/>
<rect x="69.4" y="0" width="2.2" height="1.6" fill="#222" opacity="0.8"/>
<rect x="73.6" y="0" width="2.2" height="1.0" fill="#222" opacity="0.8"/>
<rect x="110.0" y="0" width="3.2" height="1.0" fill="#222" opacity="0.8"/>
<rect x="114.2" y="0" width="2.2" height="1.6" fill="#222" opacity="0.8"/>
<rect x="118.4" y="0" width="2.2" height="1.0" fill="#222" opacity="0.8"/>
<rect x="122.6" y="0" width="3.2" height="1.6" fill="#222" opacity="0.8"/>
<rect x="126.8" y="0" width="2.2" height="1.0" fill="#222" opacity="0.8"/>
<rect x="131.0" y="0" width="2.2" height="1.6" fill="#222" opacity="0.8"/>
<rect x="135.2" y="0" width="3.2" height="1.0" fill="#222" opacity="0.8"/>
<rect x="139.4" y="0" width="2.2" height="1.6" fill="#222" opacity="0.8"/>
<rect x="172.0" y="0" width="3.2" height="1.0" fill="#222" opacity="0.8"/>
<rect x="176.2" y="0" width="2.2" height="1.6" fill="#222" opacity="0.8"/>
<rect x="180.4" y="0" width="2.2" height="1.0" fill="#222" opacity="0.8"/>
<rect x="184.6" y="0" width="3.2" height="1.6" fill="#222" opacity="0.8"/>
<rect x="188.8" y="0" width="2.2" height="1.0" fill="#222" opacity="0.8"/>
<rect x="193.0" y="0" width="2.2" height="1.6" fill="#222" opacity="0.8"/>
<rect x="197.2" y="0" width="3.2" height="1.0" fill="#222" opacity="0.8"/>
<rect x="201.4" y="0" width="2.2" height="1.6" fill="#222" opacity="0.8"/>
<rect x="237.0" y="0" width="3.2" height="1.0" fill="#222" opacity="0.8"/>
<rect x="241.2" y="0" width="2.2" height="1.6" fill="#222" opacity="0.8"/>
<rect x="245.4" y="0" width="2.2" height="1.0" fill="#222" opacity="0.8"/>
<rect x="249.6" y="0" width="3.2" height="1.6" fill="#222" opacity="0.8"/>
<rect x="253.8" y="0" width="2.2" height="1.0" fill="#222" opacity="0.8"/>
<rect x="258.0" y="0" width="2.2" height="1.6" fill="#222" opacity="0.8"/>
<rect x="262.2" y="0" width="3.2" height="1.0" fill="#222" opacity="0.8"/>
<rect x="266.4" y="0" width="2.2" height="1.6" fill="#222" opacity="0.8"/>
<rect x="295.0" y="0" width="3.2" height="1.0" fill="#222" opacity="0.8"/>
<rect x="299.2" y="0" width="2.2" height="1.6" fill="#222" opacity="0.8"/>
<rect x="303.4" y="0" width="2.2" height="1.0" fill="#222" opacity="0.8"/>
<rect x="307.6" y="0" width="3.2" height="1.6" fill="#222" opacity="0.8"/>
<rect x="311.8" y="0" width="2.2" height="1.0" fill="#222" opacity="0.8"/>
<rect x="316.0" y="0" width="2.2" height="1.6" fill="#222" opacity="0.8"/>
<rect x="320.2" y="0" width="3.2" height="1.0" fill="#222" opacity="0.8"/>
<rect x="324.4" y="0" width="2.2" height="1.6" fill="#222" opacity="0.8"/>
<rect x="328.6" y="0" width="2.2" height="1.0" fill="#222" opacity="0.8"/>
<rect x="332.8" y="0" width="3.2" height="1.6" fill="#222" opacity="0.8"/>
<rect x="337.0" y="0" width="2.2" height="1.0" fill="#222" opacity="0.8"/>
<rect x="341.2" y="0" width="2.2" height="1.6" fill="#222" opacity="0.8"/>
<rect x="345.4" y="0" width="3.2" height="1.0" fill="#222" opacity="0.8"/>
<rect x="349.6" y="0" width="2.2" height="1.6" fill="#222" opacity="0.8"/>
<rect x="353.8" y="0" width="2.2" height="1.0" fill="#222" opacity="0.8"/>
<rect x="358.0" y="0" width="3.2" height="1.6" fill="#222" opacity="0.8"/>
<rect x="362.2" y="0" width="2.2" height="1.0" fill="#222" opacity="0.8"/>
<rect x="383.0" y="0" width="3.2" height="1.0" fill="#222" opacity="0.8"/>
<rect x="387.2" y="0" width="2.2" height="1.6" fill="#222" opacity="0.8"/>
<rect x="391.4" y="0" width="2.2" height="1.0" fill="#222" opacity="0.8"/>
<rect x="395.6" y="0" width="3.2" height="1.6" fill="#222" opacity="0.8"/>
<rect x="399.8" y="0" width="2.2" height="1.0" fill="#222" opacity="0.8"/>
<rect x="404.0" y="0" width="2.2" height="1.6" fill="#222" opacity="0.8"/>
<rect x="408.2" y="0" width="3.2" height="1.0" fill="#222" opacity="0.8"/>
<rect x="412.4" y="0" width="2.2" height="1.6" fill="#222" opacity="0.8"/>
<rect x="416.6" y="0" width="2.2" height="1.0" fill="#222" opacity="0.8"/>
<rect x="420.8" y="0" width="3.2" height="1.6" fill="#222" opacity="0.8"/>
<rect x="451.0" y="0" width="3.2" height="1.0" fill="#222" opacity="0.8"/>
<rect x="455.2" y="0" width="2.2" height="1.6" fill="#222" opacity="0.8"/>
<rect x="459.4" y="0" width="2.2" height="1.0" fill="#222" opacity="0.8"/>
<rect x="463.6" y="0" width="3.2" height="1.6" fill="#222" opacity="0.8"/>
<rect x="467.8" y="0" width="2.2" height="1.0" fill="#222" opacity="0.8"/>
<rect x="472.0" y="0" width="2.2" height="1.6" fill="#222" opacity="0.8"/>
<rect x="476.2" y="0" width="3.2" height="1.0" fill="#222" opacity="0.8"/>
<rect x="480.4" y="0" width="2.2" height="1.6" fill="#222" opacity="0.8"/>
<rect x="516.0" y="0" width="3.2" height="1.0" fill="#222" opacity="0.8"/>
<rect x="520.2" y="0" width="2.2" height="1.6" fill="#222" opacity="0.8"/>
<rect x="524.4" y="0" width="2.2" height="1.0" fill="#222" opacity="0.8"/>
<rect x="528.6" y="0" width="3.2" height="1.6" fill="#222" opacity="0.8"/>
<rect x="532.8" y="0" width="2.2" height="1.0" fill="#222" opacity="0.8"/>
<rect x="537.0" y="0" width="2.2" height="1.6" fill="#222" opacity="0.8"/>
<rect x="541.2" y="0" width="3.2" height="1.0" fill="#222" opacity="0.8"/>
<rect x="545.4" y="0" width="2.2" height="1.6" fill="#222" opacity="0.8"/>
<rect x="591.0" y="0" width="3.2" height="1.0" fill="#ff1010" opacity="0.8"/>
<rect x="595.2" y="0" width="2.2" height="1.6" fill="#ff1010" opacity="0.8"/>
<rect x="599.4" y="0" width="2.2" height="1.0" fill="#ff1010" opacity="0.8"/>
<rect x="603.6" y="0" width="3.2" height="1.6" fill="#ff1010" opacity="0.8"/>
<rect x="607.8" y="0" width="2.2" height="1.0" fill="#ff1010" opacity="0.8"/>
<rect x="612.0" y="0" width="2.2" height="1.6" fill="#ff1010" opacity="0.8"/>
<rect x="616.2" y="0" width="3.2" height="1.0" fill="#ff1010" opacity="0.8"/>
<rect x="620.4" y="0" width="2.2" height="1.6" fill="#ff1010" opacity="0.8"/>
<rect x="624.6" y="0" width="2.2" height="1.0" fill="#ff1010" opacity="0.8"/>
<rect x="659.0" y="0" width="3.2" height="1.0" fill="#ff1010" opacity="0.8"/>
<rect x="663.2" y="0" width="2.2" height="1.6" fill="#ff1010" opacity="0.8"/>
<rect x="667.4" y="0" width="2.2" height="1.0" fill="#ff1010" opacity="0.8"/>
<rect x="671.6" y="0" width="3.2" height="1.6" fill="#ff1010" opacity="0.8"/>
<rect x="675.8" y="0" width="2.2" height="1.0" fill="#ff1010" opacity="0.8"/>
<rect x="680.0" y="0" width="2.2" height="1.6" fill="#ff1010" opacity="0.8"/>
<rect x="684.2" y="0" width="3.2" height="1.0" fill="#ff1010" opacity="0.8"/>
<rect x="688.4" y="0" width="2.2" height="1.6" fill="#ff1010" opacity="0.8"/>
<rect x="692.6" y="0" width="2.2" height="1.0" fill="#ff1010" opacity="0.8"/>
<rect x="992.0" y="0" width="3.2" height="1.2" fill="#222" opacity="0.8"/>
<rect x="996.4" y="0" width="2.2" height="2.0" fill="#222" opacity="0.8"/>
<rect x="1000.8" y="0" width="2.2" height="1.2" fill="#222" opacity="0.8"/>
<rect x="1005.2" y="0" width="3.2" height="2.0" fill="#222" opacity="0.8"/>
<rect x="1009.6" y="0" width="2.2" height="1.2" fill="#222" opacity="0.8"/>
<rect x="1014.0" y="0" width="2.2" height="2.0" fill="#222" opacity="0.8"/>
<rect x="1018.4" y="0" width="3.2" height="1.2" fill="#222" opacity="0.8"/>
<rect x="1022.8" y="0" width="2.2" height="2.0" fill="#222" opacity="0.8"/>
<rect x="1027.2" y="0" width="2.2" height="1.2" fill="#222" opacity="0.8"/>
<rect x="1031.6" y="0" width="3.2" height="2.0" fill="#222" opacity="0.8"/>
<rect x="1036.0" y="0" width="2.2" height="1.2" fill="#222" opacity="0.8"/>
<rect x="1040.4" y="0" width="2.2" height="2.0" fill="#222" opacity="0.8"/>
<rect x="1044.8" y="0" width="3.2" height="1.2" fill="#222" opacity="0.8"/>
<rect x="1049.2" y="0" width="2.2" height="2.0" fill="#222" opacity="0.8"/>
<rect x="1053.6" y="0" width="2.2" height="1.2" fill="#222" opacity="0.8"/>
<rect x="1058.0" y="0" width="3.2" height="2.0" fill="#222" opacity="0.8"/>
<rect x="1062.4" y="0" width="2.2" height="1.2" fill="#222" opacity="0.8"/>
<rect x="1066.8" y="0" width="2.2" height="2.0" fill="#222" opacity="0.8"/>
<rect x="1071.2" y="0" width="3.2" height="1.2" fill="#222" opacity="0.8"/>
<rect x="1075.6" y="0" width="2.2" height="2.0" fill="#222" opacity="0.8"/>
<rect x="1080.0" y="0" width="2.2" height="1.2" fill="#222" opacity="0.8"/>
<rect x="1084.4" y="0" width="3.2" height="2.0" fill="#222" opacity="0.8"/>
<rect x="1088.8" y="0" width="2.2" height="1.2" fill="#222" opacity="0.8"/>
<rect x="1093.2" y="0" width="2.2" height="2.0" fill="#222" opacity="0.8"/>
<rect x="1097.6" y="0" width="3.2" height="1.2" fill="#222" opacity="0.8"/>
<rect x="1102.0" y="0" width="2.2" height="2.0" fill="#222" opacity="0.8"/>
<rect x="1106.4" y="0" width="2.2" height="1.2" fill="#222" opacity="0.8"/>
<rect x="1110.8" y="0" width="3.2" height="2.0" fill="#222" opacity="0.8"/>
<rect x="1115.2" y="0" width="2.2" height="1.2" fill="#222" opacity="0.8"/>
<rect x="1119.6" y="0" width="2.2" height="2.0" fill="#222" opacity="0.8"/>
<rect x="1124.0" y="0" width="3.2" height="1.2" fill="#222" opacity="0.8"/>
<rect x="1128.4" y="0" width="2.2" height="2.0" fill="#222" opacity="0.8"/>
<rect x="1132.8" y="0" width="2.2" height="1.2" fill="#222" opacity="0.8"/>
<rect x="1137.2" y="0" width="3.2" height="2.0" fill="#222" opacity="0.8"/>
<rect x="1141.6" y="0" width="2.2" height="1.2" fill="#222" opacity="0.8"/>
<rect x="1146.0" y="0" width="2.2" height="2.0" fill="#222" opacity="0.8"/>
<rect x="1150.4" y="0" width="3.2" height="1.2" fill="#222" opacity="0.8"/>
<rect x="1154.8" y="0" width="2.2" height="2.0" fill="#222" opacity="0.8"/>
<rect x="1159.2" y="0" width="2.2" height="1.2" fill="#222" opacity="0.8"/>
<rect x="1163.6" y="0" width="3.2" height="2.0" fill="#222" opacity="0.8"/>
<rect x="1168.0" y="0" width="2.2" height="1.2" fill="#222" opacity="0.8"/>
<rect x="1172.4" y="0" width="2.2" height="2.0" fill="#222" opacity="0.8"/>
<rect x="1176.8" y="0" width="3.2" height="1.2" fill="#222" opacity="0.8"/>
<rect x="1181.2" y="0" width="2.2" height="2.0" fill="#222" opacity="0.8"/>
<rect x="1185.6" y="0" width="2.2" height="1.2" fill="#222" opacity="0.8"/>
<rect x="1190.0" y="0" width="3.2" height="2.0" fill="#222" opacity="0.8"/>
<rect x="1194.4" y="0" width="2.2" height="1.2" fill="#222" opacity="0.8"/>
<rect x="1198.8" y="0" width="2.2" height="2.0" fill="#222" opacity="0.8"/>
</svg>
</body></html>
